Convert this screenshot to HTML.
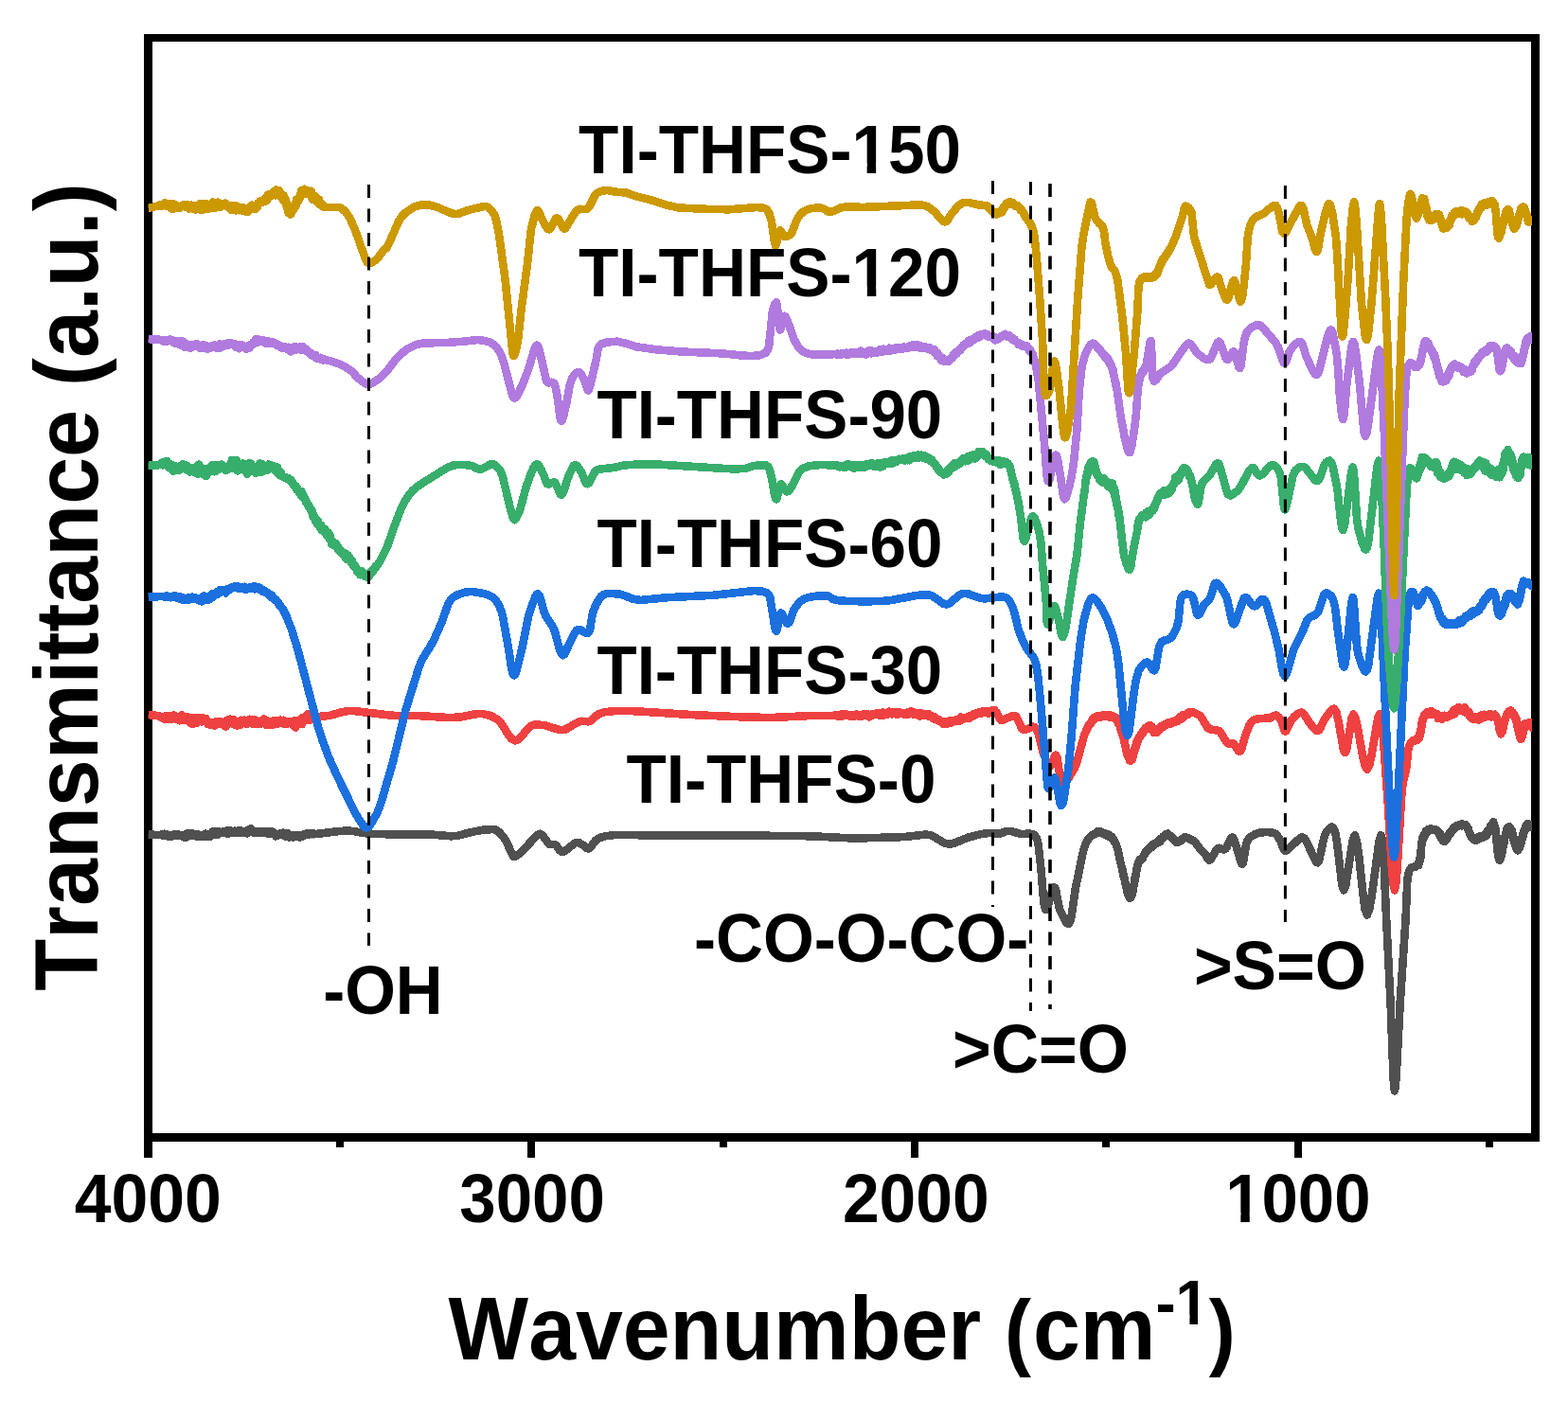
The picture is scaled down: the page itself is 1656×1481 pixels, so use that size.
<!DOCTYPE html>
<html><head><meta charset="utf-8"><title>FTIR spectra</title>
<style>html,body{margin:0;padding:0;background:#fff;}body{width:1656px;height:1481px;overflow:hidden;}svg{display:block;}</style>
</head><body>
<svg width="1656" height="1481" viewBox="0 0 1656 1481"><rect x="0" y="0" width="1656" height="1481" fill="#fff"/>
<g fill="#000" shape-rendering="crispEdges"><rect x="152" y="36" width="1474" height="8"/><rect x="152" y="1197" width="1474" height="9"/><rect x="152" y="36" width="9" height="1187"/><rect x="1617" y="36" width="9" height="1170"/><rect x="557" y="1206" width="8" height="17"/><rect x="962" y="1206" width="8" height="17"/><rect x="1367" y="1206" width="8" height="17"/><rect x="355" y="1206" width="8" height="6"/><rect x="760" y="1206" width="8" height="6"/><rect x="1164" y="1206" width="8" height="6"/><rect x="1569" y="1206" width="8" height="6"/></g>
<defs><clipPath id="cp"><rect x="156.5" y="0" width="1461.5" height="1481"/></clipPath></defs>
<g clip-path="url(#cp)" fill="none" stroke-width="8.6" stroke-linejoin="round" stroke-linecap="butt" shape-rendering="crispEdges">
<path stroke="#505050" d="M156.5 881.5L169.4 882.1L170.3 881.7L171.1 882.5L171.9 881.5L172.8 882.5L173.6 880.8L174.5 883.0L175.3 881.0L176.2 882.8L177.0 881.9L177.9 883.5L178.7 882.9L179.6 884.0L180.4 883.1L181.3 883.7L182.1 882.3L183.0 882.5L183.8 881.3L184.7 882.5L185.5 881.2L186.4 882.5L187.2 881.5L188.1 882.4L188.9 881.6L189.7 882.4L190.5 882.2L191.4 883.3L192.2 882.6L193.0 883.8L193.8 882.3L194.7 884.4L195.5 882.1L196.3 884.4L197.2 880.6L198.0 883.9L198.9 880.6L199.7 883.1L200.5 881.3L201.4 882.9L202.2 880.3L203.0 882.6L203.9 880.5L204.7 882.8L205.6 881.4L206.4 882.9L207.3 881.7L208.1 883.6L208.9 881.1L209.8 883.6L210.6 881.8L211.5 883.7L212.3 882.3L213.2 884.1L214.0 881.9L214.9 883.0L215.7 881.4L216.5 884.0L217.4 880.7L218.2 883.5L219.1 881.4L219.9 883.7L220.8 881.9L221.6 884.0L222.5 880.9L223.3 881.7L224.2 878.6L225.0 881.3L225.9 878.4L226.7 881.7L227.5 878.4L228.4 880.9L229.2 879.1L230.1 881.9L230.9 878.0L231.8 880.5L232.6 879.1L233.5 880.2L234.3 878.8L235.2 880.1L236.0 878.5L236.9 880.0L237.7 878.3L238.6 879.9L239.4 877.4L240.3 881.0L241.1 877.9L242.0 880.1L242.8 877.1L243.7 879.6L244.5 877.8L245.4 879.7L246.3 878.8L247.1 880.2L248.0 877.7L248.9 879.8L249.7 877.9L250.6 879.2L251.4 877.7L252.3 879.3L253.2 877.7L254.0 879.7L254.9 877.5L255.8 879.8L256.6 877.9L257.5 879.3L258.3 877.9L259.2 879.6L260.0 877.7L260.9 880.4L261.7 877.9L262.6 879.1L263.4 876.0L264.3 878.4L265.1 875.0L265.9 878.9L266.8 876.9L267.6 879.6L268.4 878.1L269.3 879.5L270.1 878.2L270.9 879.5L271.7 878.6L272.5 879.4L273.3 878.7L274.1 879.8L274.9 878.5L275.7 879.3L276.5 878.1L277.4 879.7L278.3 878.3L279.2 879.4L280.1 878.0L281.0 879.6L281.8 878.1L282.7 880.6L283.6 878.9L284.4 881.2L285.3 878.5L286.1 880.4L287.0 878.1L287.8 880.4L288.7 879.0L289.5 881.2L290.4 880.4L291.2 883.3L292.0 881.1L292.9 882.7L293.7 880.9L294.5 882.3L295.3 880.6L296.2 881.7L297.0 880.1L297.8 881.9L298.7 879.7L299.5 882.4L300.3 880.9L301.1 883.3L302.0 881.1L302.8 883.6L303.6 880.0L304.5 884.3L305.3 881.3L306.2 884.3L307.0 882.4L307.8 884.2L308.7 881.8L309.5 884.7L310.4 882.9L311.2 884.2L312.0 882.6L312.9 883.9L313.7 882.1L314.6 883.8L315.4 882.0L316.3 884.5L317.1 882.5L317.9 884.1L318.8 882.2L319.6 883.5L320.5 881.6L321.3 882.6L322.1 881.2L323.0 882.0L323.8 880.4L324.7 881.6L325.5 880.8L326.4 881.6L327.2 880.5L328.0 880.9L328.9 880.5L329.7 881.2L330.6 880.7L331.4 881.2L332.2 880.7L333.1 881.1L358.0 878.0L367.7 877.5L374.6 878.2L384.4 880.1L392.7 880.8L418.3 881.5L455.0 881.5L476.1 883.3L483.2 882.8L498.1 879.0L510.7 876.5L520.7 876.1L523.4 876.6L526.2 878.2L530.5 882.6L534.5 888.5L541.8 904.2L542.8 905.0L544.8 904.5L550.0 900.7L566.5 883.0L569.3 881.0L570.6 880.8L572.8 882.2L579.5 891.2L581.1 892.0L586.3 892.3L587.5 893.3L591.1 898.2L593.5 900.1L594.7 900.0L597.1 898.7L606.4 891.2L609.2 889.9L611.3 890.2L613.3 891.2L616.3 893.0L619.3 895.8L621.3 896.5L622.8 895.8L624.3 894.2L629.2 887.7L632.8 885.2L638.7 883.4L648.8 882.1L835.3 882.9L860.0 883.4L893.7 885.2L909.3 885.4L954.5 884.1L977.4 881.6L981.5 882.0L985.1 883.1L995.2 889.2L998.4 890.8L1001.8 891.5L1005.1 891.3L1008.5 890.4L1022.0 884.8L1035.8 881.1L1044.7 879.9L1055.8 880.7L1063.7 877.8L1067.3 877.8L1077.8 880.9L1088.3 880.7L1090.7 881.2L1092.7 882.3L1094.7 885.1L1096.0 889.2L1096.8 894.0L1099.6 919.3L1102.1 951.0L1103.2 958.2L1104.6 961.1L1105.9 959.4L1110.6 943.5L1112.1 939.0L1113.5 937.3L1114.6 938.6L1115.5 942.0L1118.2 957.0L1119.4 961.1L1125.4 973.6L1126.9 975.4L1128.3 976.0L1130.1 973.5L1131.7 967.4L1135.6 939.8L1144.1 898.7L1146.4 891.9L1149.1 886.8L1154.0 881.9L1154.7 882.0L1155.7 880.8L1156.8 880.8L1157.8 879.4L1158.9 879.8L1159.9 877.9L1161.0 879.5L1161.8 878.3L1162.6 879.4L1163.4 878.9L1164.3 880.4L1165.2 879.6L1166.1 880.7L1167.0 880.3L1167.9 882.0L1168.8 881.1L1169.6 883.3L1170.5 881.3L1171.4 884.3L1172.2 882.5L1173.0 884.3L1173.8 883.6L1174.5 885.5L1175.2 885.6L1176.4 887.3L1176.8 889.1L1177.3 888.9L1178.2 890.5L1180.8 898.1L1183.0 909.4L1184.6 916.2L1184.8 915.6L1185.0 918.6L1185.2 917.3L1185.4 920.0L1185.7 918.9L1186.6 925.6L1186.8 923.9L1187.7 929.6L1187.8 928.3L1188.3 933.4L1188.5 932.3L1188.7 934.7L1188.8 933.3L1189.0 936.6L1189.1 934.7L1190.1 940.8L1190.2 939.7L1190.4 942.3L1190.6 941.1L1190.8 943.2L1191.1 942.8L1191.4 945.1L1191.7 944.7L1193.0 948.8L1194.2 948.2L1194.7 946.5L1195.2 946.6L1195.4 944.9L1195.6 945.5L1198.4 930.7L1198.8 926.6L1199.0 928.0L1200.0 920.5L1200.1 921.6L1200.3 918.2L1200.5 919.6L1200.9 915.1L1201.1 916.8L1201.4 913.5L1201.6 914.6L1201.9 911.9L1202.1 912.8L1203.1 909.3L1203.6 909.7L1204.1 907.7L1204.6 908.8L1205.1 906.9L1205.7 907.4L1206.3 905.8L1206.9 906.5L1207.5 904.0L1208.2 903.8L1208.7 901.6L1209.1 902.1L1210.6 898.9L1211.1 899.0L1211.6 898.0L1212.1 898.1L1212.6 896.9L1213.4 897.0L1214.2 895.4L1214.9 895.5L1215.5 893.6L1216.2 895.0L1216.9 893.1L1217.6 893.7L1218.4 891.4L1219.1 892.4L1219.8 890.6L1220.5 891.7L1221.3 890.3L1222.0 891.0L1222.7 889.1L1223.5 890.2L1224.3 887.3L1225.1 889.2L1225.9 886.3L1226.5 887.5L1227.0 885.0L1227.5 886.0L1228.4 883.6L1229.2 884.1L1230.0 882.3L1230.9 882.1L1231.7 881.1L1232.6 881.9L1233.5 880.6L1234.4 881.9L1235.4 882.3L1236.3 883.9L1237.0 883.4L1237.6 884.9L1238.3 884.8L1238.9 886.6L1239.6 885.9L1240.2 887.7L1241.2 887.5L1242.2 889.8L1243.1 888.5L1244.0 889.8L1245.5 888.6L1246.9 888.6L1247.6 887.3L1248.3 887.4L1249.0 885.9L1249.7 885.9L1251.1 884.2L1252.5 885.1L1253.9 884.8L1255.4 886.0L1256.2 885.7L1256.9 886.5L1259.1 887.2L1262.1 889.8L1266.7 895.9L1272.3 901.6L1275.5 907.3L1277.3 908.7L1278.7 907.8L1284.8 897.3L1286.5 895.9L1287.7 895.8L1292.5 897.5L1293.6 897.3L1295.1 895.9L1299.0 887.4L1300.2 885.3L1301.4 884.5L1302.6 885.5L1303.8 887.9L1310.0 908.8L1311.4 912.4L1312.1 912.9L1313.0 911.3L1316.2 891.2L1317.7 887.4L1320.5 884.2L1325.7 881.0L1330.5 879.6L1337.2 879.0L1343.7 879.5L1346.1 880.3L1348.5 882.1L1350.2 884.6L1352.8 889.3L1355.3 896.3L1356.3 897.9L1357.4 898.7L1358.6 898.5L1360.0 897.6L1372.7 885.5L1374.4 884.6L1375.9 884.5L1377.5 885.5L1379.0 887.5L1389.3 909.1L1390.5 910.8L1391.6 911.3L1393.1 909.3L1398.3 884.7L1400.0 880.3L1403.8 875.3L1406.4 873.6L1407.6 873.6L1410.2 879.2L1412.3 891.8L1417.4 935.5L1419.2 940.3L1421.1 936.0L1428.9 886.6L1430.8 882.3L1433.0 888.6L1435.2 904.2L1439.5 944.7L1441.6 960.3L1443.9 966.5L1446.3 960.3L1449.0 944.6L1456.5 888.5L1458.4 882.3L1459.9 887.0L1461.1 899.1L1464.2 972.3L1468.6 1059.4L1471.4 1135.0L1472.1 1147.5L1472.9 1152.3L1473.8 1147.5L1474.7 1135.0L1478.7 1059.4L1484.5 972.3L1486.3 930.0L1487.6 922.2L1489.3 917.9L1490.9 916.0L1492.3 916.2L1493.8 915.3L1495.3 915.6L1496.6 914.1L1497.8 914.2L1498.2 911.0L1498.5 912.2L1498.9 909.0L1499.3 910.7L1499.8 905.1L1499.9 907.0L1500.1 903.8L1500.2 906.7L1501.1 892.5L1501.2 895.0L1501.3 890.9L1501.4 892.9L1501.7 888.7L1501.9 889.8L1502.1 886.7L1502.3 888.1L1502.5 884.2L1502.7 886.2L1503.1 883.1L1503.6 884.1L1504.0 881.5L1504.5 883.5L1505.0 880.1L1505.5 880.9L1506.1 877.6L1506.6 879.7L1507.2 876.8L1507.8 878.8L1508.5 876.2L1509.2 877.9L1510.7 875.5L1511.5 877.1L1512.3 875.7L1513.2 876.5L1514.0 876.0L1514.9 876.8L1515.8 876.1L1516.6 877.7L1517.4 876.9L1518.2 878.5L1518.9 878.1L1519.5 880.3L1520.2 879.7L1520.7 883.0L1521.3 881.2L1521.8 884.4L1522.2 884.1L1522.7 886.7L1523.2 885.4L1523.7 888.3L1524.2 886.7L1525.4 889.0L1526.3 886.3L1527.3 887.4L1527.8 885.2L1528.3 886.4L1528.8 883.9L1529.3 884.5L1529.7 882.2L1530.1 882.8L1530.6 880.3L1531.0 881.2L1531.4 879.8L1531.9 880.4L1532.3 878.0L1532.8 878.7L1533.3 876.9L1533.7 877.4L1534.3 875.8L1534.9 876.4L1535.4 874.0L1536.0 874.5L1536.8 873.4L1537.5 873.7L1538.3 872.3L1539.1 873.2L1539.9 871.7L1540.8 872.3L1541.6 871.1L1542.5 872.0L1543.3 870.6L1544.2 872.4L1545.0 870.7L1545.8 872.1L1546.6 871.3L1547.4 872.6L1548.1 871.5L1548.9 873.8L1549.7 873.5L1550.1 875.4L1550.5 874.8L1552.1 880.4L1552.4 880.2L1552.7 882.0L1552.9 881.2L1554.1 884.8L1554.5 884.7L1555.4 885.9L1556.2 885.5L1557.1 887.3L1558.1 885.9L1559.2 887.9L1560.3 884.5L1561.1 886.7L1561.8 885.1L1562.6 886.2L1563.4 883.1L1564.2 885.3L1564.9 883.4L1565.7 885.0L1566.4 882.5L1567.2 883.7L1568.1 881.4L1569.1 883.3L1569.9 879.2L1570.7 881.5L1571.2 877.5L1571.7 879.3L1572.2 876.5L1572.7 877.3L1573.1 875.2L1573.6 875.9L1574.2 871.9L1574.9 873.5L1575.5 871.4L1576.1 872.7L1577.2 868.3L1577.6 872.5L1578.0 871.5L1578.4 874.0L1578.8 872.8L1579.2 877.1L1579.3 875.1L1579.8 881.5L1579.9 879.6L1580.2 884.4L1580.3 882.7L1580.4 885.6L1580.5 884.0L1580.7 890.3L1580.8 888.4L1580.9 891.7L1581.0 889.3L1581.1 894.1L1581.1 891.8L1581.4 896.6L1581.5 893.6L1581.7 900.6L1581.8 897.8L1582.4 905.6L1582.5 903.9L1582.9 906.9L1583.3 906.0L1583.7 908.8L1584.2 905.6L1584.6 907.2L1585.1 903.7L1585.3 905.5L1585.9 900.0L1586.1 902.0L1586.2 899.0L1586.4 901.2L1586.6 898.0L1586.8 898.6L1586.9 896.5L1587.1 898.2L1587.3 894.9L1587.9 891.6L1588.1 892.3L1588.2 889.8L1588.4 891.0L1589.2 884.3L1589.4 885.2L1589.9 881.3L1590.1 882.4L1590.8 878.6L1591.0 879.3L1591.6 875.2L1592.2 877.3L1592.8 874.1L1593.4 874.9L1594.2 873.3L1595.0 875.9L1595.3 874.9L1595.6 877.6L1595.9 876.5L1596.3 878.9L1596.6 877.1L1596.8 881.7L1597.1 879.6L1597.3 882.1L1597.5 880.4L1597.8 884.6L1598.0 882.7L1598.3 886.3L1598.5 884.6L1598.7 887.9L1599.0 886.1L1599.7 891.2L1599.9 890.8L1600.2 892.8L1600.5 891.9L1601.3 896.3L1601.6 896.0L1602.1 897.6L1602.7 896.6L1603.2 898.4L1603.7 896.8L1604.3 896.8L1605.1 894.9L1605.9 891.0L1606.1 892.5L1606.8 887.3L1607.0 888.4L1607.6 884.5L1607.8 885.9L1608.4 882.0L1608.6 882.9L1608.7 879.9L1608.9 881.4L1609.1 879.0L1609.3 880.3L1609.5 877.1L1609.8 878.3L1610.1 876.4L1610.4 877.6L1611.2 872.9L1611.7 874.5L1612.3 870.8L1612.9 871.7L1613.8 870.0L1614.9 871.7L1616.1 871.2L1617.0 873.7L1617.7 872.1L1618.0 874.2"/>
<path stroke="#EF4141" d="M156.5 755.0L167.3 756.1L168.2 756.7L169.1 756.6L170.0 757.9L170.9 756.8L171.8 758.2L172.7 757.2L173.6 759.6L174.5 756.7L175.4 759.5L176.3 756.5L177.2 759.3L178.1 755.8L179.0 759.2L179.9 755.8L180.8 760.1L181.7 756.6L182.6 759.2L183.6 755.5L184.5 758.1L185.4 756.2L186.2 759.9L187.1 757.4L187.9 760.0L188.7 758.2L189.5 761.3L190.4 756.5L191.2 759.9L192.0 755.4L192.8 761.2L193.7 757.0L194.5 761.0L195.3 757.2L196.1 759.5L197.0 757.4L197.8 759.3L198.6 757.7L199.4 760.8L200.3 757.8L201.1 763.9L202.0 760.0L202.8 764.5L203.6 758.4L204.5 764.4L205.3 758.0L206.2 764.0L207.0 759.9L207.9 763.9L208.7 758.3L209.6 761.5L210.5 758.8L211.4 760.7L212.2 757.9L213.1 762.3L214.0 758.2L214.9 761.2L215.8 759.4L216.6 762.0L217.4 759.0L218.2 763.1L219.0 762.2L219.8 765.1L220.7 762.5L221.5 765.6L222.3 763.4L223.1 764.8L224.0 763.2L224.8 766.0L225.7 763.0L226.5 766.4L227.4 762.5L228.2 765.2L229.1 761.8L229.9 764.4L230.8 762.3L231.7 764.7L232.6 762.4L233.4 765.1L234.3 762.7L235.2 765.1L236.0 762.8L236.9 766.7L237.8 762.9L238.7 767.4L239.5 760.7L240.4 764.6L241.3 760.4L242.1 763.8L243.0 759.7L243.9 763.7L244.7 761.8L245.6 764.6L246.4 760.0L247.3 765.4L248.1 762.4L249.0 764.9L249.8 762.5L250.6 766.4L251.4 764.2L252.2 765.5L253.1 763.4L253.9 765.7L254.7 760.7L255.5 763.2L256.3 760.9L257.2 763.4L258.1 760.6L259.0 763.1L259.9 760.8L260.8 765.1L261.7 761.2L262.6 763.0L263.5 759.7L264.3 764.2L265.2 760.1L266.1 762.4L267.0 760.2L267.8 765.0L268.7 760.5L269.6 764.9L270.4 760.6L271.3 765.1L272.2 763.0L273.0 765.2L273.8 762.6L274.7 764.8L275.5 762.8L276.3 763.6L277.2 760.6L278.0 762.6L278.8 759.5L279.6 764.2L280.4 760.4L281.2 766.1L282.0 761.5L283.0 766.0L283.9 762.8L284.8 765.7L285.8 762.5L286.7 764.3L287.6 762.7L288.5 765.6L289.4 761.2L290.3 763.9L291.2 762.3L292.1 764.3L292.9 761.0L293.8 764.5L294.6 761.7L295.5 762.5L296.3 760.7L297.1 762.3L298.0 760.8L298.8 763.9L299.6 760.8L300.4 765.2L301.2 761.8L302.1 765.2L302.9 762.2L303.7 763.8L304.5 762.3L305.3 763.3L306.2 762.3L307.0 764.3L307.8 762.7L308.7 765.0L309.5 763.7L310.4 767.0L311.2 761.3L312.1 768.5L312.9 762.5L313.8 765.9L314.6 761.2L315.4 764.8L316.3 761.7L317.1 765.0L317.9 760.0L318.8 765.2L319.6 758.0L320.5 761.4L321.3 757.7L322.1 759.8L323.0 756.6L323.8 760.4L324.7 754.4L325.5 760.8L326.4 757.1L327.2 760.6L328.0 757.2L328.9 759.7L329.7 757.5L330.5 758.6L331.4 757.3L332.2 758.5L333.1 757.4L333.9 757.6L334.8 757.1L347.4 756.0L360.9 752.3L367.7 751.0L374.3 751.1L413.4 755.7L422.1 756.1L440.5 756.0L474.5 758.1L486.1 757.5L500.8 754.5L505.2 754.0L509.4 754.0L517.9 755.9L525.6 760.0L528.8 763.2L537.7 777.3L540.7 780.8L543.8 782.3L546.8 781.4L549.8 778.8L559.0 768.1L562.0 766.1L566.2 765.3L575.6 766.3L590.2 770.8L594.5 771.2L597.4 770.4L609.9 763.1L612.7 762.0L614.5 761.8L621.2 762.3L622.8 762.0L624.5 761.1L631.0 755.1L633.0 754.0L638.3 752.3L647.9 751.2L661.8 750.9L673.8 751.4L729.8 755.0L788.8 757.6L815.5 758.0L860.0 755.8L880.0 755.8L882.5 755.4L883.3 756.1L884.2 755.3L885.0 756.2L885.8 755.9L886.6 756.9L887.5 755.9L888.3 756.5L889.2 754.2L890.0 756.4L890.9 754.6L891.7 755.5L892.6 753.9L893.4 755.9L894.3 755.1L895.2 756.1L896.1 754.9L897.0 756.5L897.9 755.3L898.7 756.9L899.6 755.7L900.5 756.8L901.4 755.0L902.3 756.4L903.1 755.2L904.0 756.1L904.9 754.5L905.8 756.3L906.6 755.1L907.5 756.5L908.4 755.5L909.3 756.4L910.1 754.8L911.0 756.5L911.8 754.4L912.7 755.8L913.5 754.1L914.4 755.3L915.2 754.5L916.1 756.3L916.9 754.5L917.8 757.3L918.6 755.2L919.5 756.1L920.4 754.3L921.2 755.5L922.1 754.5L923.0 755.2L923.8 754.1L924.7 754.8L925.6 753.3L926.4 754.3L927.3 753.2L928.2 755.5L929.0 753.1L929.9 754.8L930.7 753.0L931.6 755.9L932.5 752.5L933.3 755.7L934.2 752.9L935.0 754.9L935.9 753.6L936.7 754.7L937.6 753.2L938.4 754.2L939.2 751.6L940.0 753.9L940.8 752.6L941.6 754.3L942.4 751.9L943.3 754.0L944.1 752.8L944.9 754.1L945.7 752.6L946.5 754.5L947.3 752.5L948.1 754.5L948.9 751.9L949.7 753.3L950.5 752.5L951.3 754.0L952.1 753.1L952.9 754.1L953.7 753.7L954.5 754.6L955.4 753.6L956.2 754.4L957.1 753.1L957.9 754.9L958.8 752.3L959.6 754.5L960.4 751.9L961.2 753.4L962.0 751.2L962.8 753.9L963.6 752.1L964.4 754.6L965.3 752.5L966.3 754.9L967.2 753.9L968.1 755.2L969.0 753.6L969.9 755.2L970.7 752.9L971.6 756.6L972.5 753.1L973.3 756.2L974.2 754.1L975.0 755.7L975.8 754.0L976.7 756.0L977.5 754.2L978.3 755.7L979.1 754.1L979.9 755.7L980.7 754.1L981.5 756.8L982.3 755.3L983.1 757.3L983.9 756.3L984.7 758.2L985.4 757.5L986.1 759.3L986.9 757.4L987.6 760.1L988.3 759.1L989.0 760.4L989.7 759.8L990.4 760.9L991.3 759.9L992.3 762.0L993.2 761.3L994.1 762.9L995.1 762.0L996.1 764.6L997.1 761.8L998.1 765.0L999.1 763.1L1000.0 764.6L1000.9 762.7L1001.8 763.5L1002.7 761.3L1003.7 763.7L1004.6 761.7L1005.6 763.2L1006.5 761.2L1007.3 762.2L1008.1 760.9L1008.9 762.2L1009.6 760.6L1010.4 761.8L1011.2 759.8L1012.0 761.0L1012.8 759.4L1013.6 761.5L1014.4 757.6L1015.1 759.8L1015.9 757.9L1016.7 759.8L1017.5 758.1L1018.2 759.3L1019.2 758.2L1020.1 759.2L1021.1 758.2L1022.0 758.9L1022.9 757.0L1023.8 758.7L1024.7 755.8L1025.5 757.6L1026.4 755.6L1027.3 756.3L1028.2 754.1L1029.1 755.5L1030.0 753.9L1030.9 754.5L1031.8 753.0L1032.7 754.3L1033.6 752.2L1034.4 753.7L1035.3 752.3L1036.1 753.9L1036.9 751.8L1037.7 752.8L1038.6 751.0L1039.4 752.4L1040.3 751.2L1041.3 752.4L1042.3 751.5L1043.2 753.5L1044.1 751.0L1045.0 753.3L1045.9 750.9L1046.7 751.8L1047.5 750.6L1049.1 752.0L1050.5 750.2L1051.8 752.4L1052.9 752.7L1055.6 759.1L1057.2 760.6L1059.2 760.5L1069.7 756.0L1071.9 756.1L1073.7 757.6L1079.1 769.3L1080.8 770.9L1082.6 771.0L1090.9 767.7L1092.7 768.0L1094.8 770.4L1096.5 774.4L1101.6 794.7L1105.3 804.3L1107.8 808.9L1109.0 809.6L1110.0 808.7L1114.1 798.5L1115.0 797.7L1116.3 799.9L1119.4 819.4L1120.7 824.9L1122.4 827.4L1124.1 827.0L1128.1 822.7L1134.3 812.5L1137.0 806.2L1144.1 780.2L1146.3 773.5L1146.7 773.5L1147.0 772.0L1147.4 772.1L1147.7 770.3L1148.1 770.6L1148.4 768.8L1148.8 769.1L1149.1 767.3L1149.5 767.7L1150.0 765.3L1150.4 766.5L1150.9 764.7L1151.5 764.8L1152.1 762.8L1152.7 763.5L1153.3 760.5L1154.0 761.7L1154.6 758.7L1155.2 760.2L1155.9 757.9L1156.6 758.1L1157.3 757.0L1158.0 757.6L1158.7 756.2L1159.5 758.0L1160.2 756.7L1161.0 757.4L1161.9 756.3L1162.9 757.5L1163.8 755.6L1164.8 757.1L1165.9 755.0L1167.0 757.2L1167.8 755.5L1168.6 756.8L1169.5 755.4L1170.3 756.9L1171.1 755.7L1171.9 757.7L1172.7 755.5L1173.5 758.1L1174.5 756.1L1175.5 757.8L1176.5 757.0L1177.2 759.2L1178.0 757.6L1178.8 760.6L1179.6 758.9L1180.4 762.8L1180.8 761.3L1181.2 764.4L1181.6 762.5L1181.9 765.0L1182.1 763.6L1182.9 768.7L1183.2 766.9L1183.4 769.7L1183.7 769.4L1183.9 771.4L1184.2 770.3L1184.5 773.4L1184.8 772.6L1186.0 778.4L1186.2 776.5L1187.1 783.2L1187.3 782.2L1187.5 784.3L1187.7 783.1L1187.9 786.0L1188.0 785.0L1188.6 789.3L1188.8 788.4L1189.0 791.6L1189.1 790.3L1189.4 793.2L1189.6 792.1L1190.6 797.7L1190.9 797.2L1191.2 799.2L1191.5 798.2L1191.8 800.8L1192.2 799.6L1192.9 803.4L1193.7 802.4L1194.4 803.6L1195.1 801.1L1195.4 802.6L1196.4 798.3L1196.6 799.1L1196.8 797.0L1197.0 798.7L1197.3 795.2L1197.5 796.1L1198.7 790.4L1198.9 791.6L1199.1 788.7L1199.4 789.9L1200.2 784.4L1200.5 786.1L1200.7 783.5L1201.1 784.2L1201.5 781.9L1201.9 783.1L1202.2 780.0L1202.6 780.6L1203.2 778.4L1203.8 778.7L1204.4 776.2L1204.9 777.0L1205.4 774.7L1205.9 775.8L1206.4 773.5L1207.0 774.8L1207.5 772.3L1208.0 772.9L1208.6 770.9L1209.3 771.7L1210.0 768.9L1210.7 770.5L1211.4 768.1L1212.1 769.6L1212.7 767.2L1213.6 769.1L1214.5 766.1L1215.5 768.4L1216.4 767.4L1217.2 771.2L1218.1 771.6L1218.9 774.2L1219.9 772.6L1221.2 774.0L1221.8 771.6L1222.5 772.5L1223.2 769.5L1223.9 771.8L1224.6 768.6L1225.3 769.6L1226.1 767.4L1226.8 768.8L1227.6 766.7L1228.4 767.9L1229.3 765.7L1230.1 766.8L1231.0 764.8L1231.9 765.7L1232.9 763.7L1233.8 765.1L1234.7 763.8L1235.7 765.1L1236.7 762.8L1237.7 764.0L1238.7 762.0L1239.7 763.2L1240.6 761.6L1241.5 762.6L1242.4 761.1L1243.1 762.1L1243.9 759.4L1244.6 760.7L1245.3 758.4L1246.0 760.2L1246.8 756.8L1247.5 759.5L1248.3 756.4L1249.0 759.0L1249.7 755.0L1250.5 757.1L1251.2 755.0L1251.9 756.0L1252.6 754.3L1253.3 755.2L1254.1 753.0L1254.9 754.7L1255.8 752.1L1256.7 753.2L1257.6 752.1L1258.5 752.6L1259.4 752.2L1261.1 752.6L1266.7 755.5L1268.5 757.3L1274.7 767.8L1276.6 769.6L1278.4 770.4L1286.2 771.7L1287.9 772.5L1291.1 776.6L1295.1 783.9L1297.4 785.5L1302.1 785.2L1303.4 786.3L1308.1 793.4L1309.2 793.8L1310.5 792.6L1311.7 789.7L1315.1 777.4L1319.2 766.7L1321.7 762.6L1323.4 761.1L1326.0 759.9L1329.1 759.3L1341.8 758.3L1345.8 755.9L1347.5 755.5L1350.5 757.5L1353.2 761.1L1356.0 770.1L1356.6 771.8L1357.4 772.5L1358.4 771.8L1359.4 770.0L1363.1 761.8L1364.5 759.7L1367.6 756.4L1371.1 753.5L1374.5 752.6L1376.3 753.5L1378.0 755.4L1382.8 763.3L1388.1 769.8L1390.4 771.8L1391.6 772.0L1393.0 771.1L1394.4 769.2L1398.5 760.7L1404.5 751.9L1407.6 748.9L1409.0 748.7L1411.4 752.6L1413.5 761.4L1418.9 791.9L1420.6 795.2L1422.1 792.2L1427.8 757.5L1429.4 754.5L1431.6 758.8L1434.0 769.5L1439.0 797.5L1441.5 808.3L1443.9 812.6L1446.2 808.3L1448.6 797.5L1455.2 758.7L1457.0 754.5L1458.6 758.1L1460.0 767.4L1465.7 847.1L1470.0 918.4L1471.5 934.2L1472.9 940.3L1474.3 933.3L1475.8 915.3L1480.1 842.2L1481.6 827.1L1484.9 813.4L1485.6 808.9L1487.2 792.5L1488.2 788.0L1490.3 783.9L1492.2 782.4L1493.7 782.9L1495.2 781.3L1496.6 782.1L1497.2 779.3L1497.8 780.2L1498.2 777.9L1498.5 780.0L1498.9 775.2L1499.3 778.2L1499.9 772.7L1500.2 774.7L1501.1 766.2L1501.3 768.2L1501.4 764.0L1501.6 766.8L1501.8 762.3L1501.9 766.1L1502.5 759.4L1502.7 761.2L1503.5 756.9L1503.9 758.4L1504.3 755.1L1505.0 756.1L1505.7 753.5L1506.5 755.6L1507.3 752.2L1508.2 754.9L1509.2 752.2L1510.3 755.0L1511.3 751.0L1512.2 753.8L1513.1 752.8L1513.9 754.6L1514.9 752.9L1515.8 755.3L1516.8 753.8L1517.5 756.4L1518.3 754.4L1519.0 759.2L1519.7 755.3L1520.7 758.9L1521.7 756.8L1522.7 759.7L1523.6 757.1L1524.5 758.1L1525.4 755.8L1526.2 757.7L1527.1 756.2L1527.9 757.9L1528.8 756.2L1529.6 756.7L1530.5 755.4L1531.3 756.2L1532.1 754.1L1532.9 755.0L1533.7 752.9L1534.5 753.9L1535.4 750.1L1536.1 754.3L1536.9 749.9L1537.7 750.9L1538.5 748.5L1539.2 750.1L1540.0 747.4L1540.9 750.8L1541.7 747.7L1542.6 750.8L1543.5 748.0L1544.3 751.0L1545.1 748.4L1546.0 751.9L1546.8 747.2L1547.5 752.6L1548.3 749.6L1549.7 753.5L1550.3 751.1L1550.9 753.7L1551.4 752.2L1551.9 756.3L1552.4 754.3L1552.8 757.0L1553.3 755.5L1553.7 758.2L1554.3 756.4L1554.8 759.3L1555.5 757.6L1556.2 760.2L1557.0 757.8L1557.8 759.5L1558.7 757.4L1559.7 759.6L1560.7 757.3L1561.7 760.4L1562.5 756.8L1563.4 759.6L1564.2 755.5L1565.0 758.2L1565.9 756.0L1566.7 757.6L1567.5 754.7L1568.4 757.4L1569.1 755.0L1569.9 757.2L1570.7 755.2L1571.4 756.7L1572.3 754.7L1573.1 756.3L1574.0 754.3L1575.3 757.4L1576.5 755.0L1577.6 756.7L1578.7 754.7L1579.6 758.2L1580.5 757.1L1580.9 759.6L1581.3 758.9L1581.6 761.0L1581.9 760.4L1583.8 771.5L1585.3 775.4L1585.9 772.4L1586.5 773.5L1587.2 768.8L1587.4 769.8L1588.9 762.2L1591.5 754.1L1591.8 754.9L1592.3 752.8L1592.9 753.3L1593.4 751.4L1594.4 752.2L1595.5 750.5L1596.7 753.2L1597.8 753.0L1598.4 754.9L1598.9 754.7L1599.4 757.7L1599.9 755.7L1601.0 761.5L1601.3 759.1L1602.5 767.5L1602.7 764.4L1603.2 770.3L1603.4 768.8L1603.5 771.2L1603.7 769.4L1603.9 773.8L1604.0 771.6L1604.2 774.8L1604.3 773.7L1604.5 775.8L1604.7 774.5L1605.4 779.5L1605.9 778.1L1606.4 780.8L1607.2 778.2L1607.4 778.8L1607.6 776.5L1607.9 777.2L1608.0 774.1L1608.2 775.6L1608.4 772.8L1608.7 770.9L1608.9 772.1L1609.1 769.2L1609.3 770.8L1610.2 764.8L1610.7 766.7L1611.3 763.9L1612.4 765.5L1613.8 763.6L1614.6 766.8L1615.3 762.9L1616.0 766.2L1616.7 765.4L1617.6 768.5L1618.0 767.3"/>
<path stroke="#1B70DE" d="M156.5 630.4L172.8 630.1L173.7 630.5L174.5 629.8L175.4 630.4L176.3 629.7L177.2 630.4L178.1 630.1L179.0 630.8L179.9 630.1L180.8 631.3L181.8 630.1L182.7 630.8L183.6 629.4L184.5 630.7L185.4 629.6L186.4 631.7L187.3 629.8L188.3 631.9L189.2 629.9L190.2 632.7L191.0 631.0L191.8 633.2L192.6 631.4L193.4 634.1L194.2 631.7L195.0 633.1L195.8 632.0L196.6 633.8L197.4 631.8L198.2 633.9L199.0 631.5L199.8 633.4L200.8 631.3L201.7 632.0L202.7 630.6L203.6 632.2L204.6 631.1L205.5 633.0L206.4 631.5L207.4 633.3L208.3 632.0L209.2 634.2L210.1 632.2L211.0 634.8L211.9 632.9L212.8 635.3L213.7 631.4L214.5 633.8L215.3 629.4L216.1 633.6L216.9 630.7L217.7 633.4L218.4 630.4L219.2 633.9L220.0 630.5L220.8 633.7L221.6 629.3L222.3 631.6L223.1 629.1L223.8 631.4L224.6 627.1L225.4 630.0L226.1 627.6L226.8 629.0L227.6 627.1L228.3 627.7L229.0 625.4L229.9 627.6L230.8 624.3L231.7 626.4L232.6 623.1L233.4 624.6L234.3 623.0L235.1 624.9L236.0 622.8L236.8 625.0L237.7 622.9L238.5 626.4L239.3 622.6L240.0 625.1L240.8 622.3L241.9 623.5L243.1 621.1L244.2 621.8L245.3 620.0L246.5 621.0L247.7 619.5L248.5 620.8L249.4 619.9L250.2 621.0L251.1 619.1L251.9 621.9L252.8 620.0L253.7 621.4L254.6 619.9L255.6 622.1L256.5 620.0L257.5 621.7L258.5 619.8L259.4 623.0L260.4 620.9L261.4 622.0L262.4 620.9L263.4 621.9L264.3 620.2L265.3 622.1L266.3 620.0L267.2 621.8L268.1 618.9L269.1 622.5L269.9 619.9L270.8 622.1L271.6 620.2L272.5 622.2L273.4 620.2L274.3 623.0L275.2 621.5L276.0 623.5L276.9 622.8L277.7 624.9L278.5 624.1L279.3 625.6L280.1 624.3L280.9 626.3L281.6 626.0L282.4 627.1L283.1 626.2L283.9 628.4L284.6 627.4L285.3 630.0L286.0 628.2L286.7 630.7L287.3 629.0L288.0 632.0L288.6 630.9L289.5 633.1L290.4 632.5L291.3 634.4L292.1 634.2L292.9 636.0L293.7 636.0L294.5 638.4L295.3 638.6L295.8 640.0L296.3 640.0L297.8 642.8L298.4 642.8L302.4 650.8L307.8 664.3L314.4 685.9L335.8 767.2L340.5 781.9L347.4 800.5L357.5 822.8L376.0 860.3L383.8 872.6L385.3 874.0L386.9 874.5L388.7 873.8L392.6 869.2L398.0 859.3L401.8 850.2L415.0 804.9L428.4 750.0L442.3 705.3L444.6 699.3L448.3 692.6L454.7 682.5L458.5 675.4L466.8 656.7L472.8 639.3L474.7 635.5L477.0 632.4L481.9 628.9L490.4 625.8L495.6 625.0L500.4 625.2L509.5 626.7L515.8 628.5L521.1 631.6L524.0 634.5L526.4 638.3L529.4 645.2L530.9 650.9L536.9 683.9L540.3 706.6L541.5 711.5L542.8 713.4L543.9 712.4L545.1 709.6L547.5 700.8L551.5 684.1L558.1 651.2L560.0 644.6L565.4 630.1L566.8 628.0L568.1 627.3L569.5 628.6L570.8 632.0L574.7 646.7L576.2 650.6L584.3 662.8L586.1 667.6L591.1 686.1L592.8 690.4L594.5 692.2L595.8 691.5L597.1 689.4L602.6 677.0L606.4 669.7L609.1 665.8L610.7 664.8L612.3 664.9L619.4 669.0L620.8 668.9L622.4 666.9L623.4 663.3L625.7 648.7L626.9 644.6L629.7 638.3L633.0 632.5L634.9 630.1L637.0 628.4L641.2 627.0L653.1 627.3L658.4 628.7L669.3 633.0L677.0 633.9L704.8 631.2L753.4 628.8L795.7 624.1L804.3 624.4L810.2 626.4L812.1 628.3L813.2 630.8L818.3 662.2L819.1 665.6L819.9 666.9L820.6 665.5L823.6 649.0L824.7 647.4L825.8 648.1L830.8 658.0L832.0 658.8L833.2 657.8L834.4 655.5L837.9 645.3L839.3 642.6L845.1 635.4L849.0 632.8L852.7 631.4L862.4 629.6L871.7 629.2L875.0 629.6L880.0 633.1L885.5 634.2L893.4 634.9L913.2 635.4L932.7 634.9L941.3 634.0L967.4 629.1L975.2 628.3L981.8 628.7L985.4 629.9L996.6 637.9L999.4 638.4L1002.3 637.6L1013.8 628.2L1016.9 627.0L1020.2 626.9L1023.6 627.7L1034.3 631.5L1038.0 632.2L1042.2 632.2L1055.6 630.6L1059.5 630.6L1062.6 631.4L1065.7 634.0L1069.6 641.9L1072.1 650.0L1075.4 664.1L1079.9 676.5L1083.6 684.0L1091.4 694.1L1092.7 696.7L1094.3 702.0L1096.4 715.1L1099.7 750.0L1106.2 829.8L1106.7 832.3L1107.5 833.3L1108.3 832.5L1111.4 824.4L1112.5 822.2L1113.5 821.4L1114.9 823.7L1119.7 848.9L1120.9 851.1L1122.2 849.3L1123.5 844.6L1128.3 812.5L1131.4 780.5L1135.6 724.7L1141.3 675.5L1144.4 656.7L1146.2 649.1L1149.5 637.4L1152.1 632.2L1153.6 631.3L1155.6 632.0L1157.8 634.1L1162.6 641.1L1169.4 654.0L1175.3 671.1L1178.8 684.8L1181.2 699.7L1186.9 758.2L1188.7 771.7L1190.7 776.9L1192.5 772.7L1197.6 731.4L1199.9 717.6L1202.6 708.5L1207.0 702.1L1210.1 699.9L1211.5 699.6L1212.8 700.3L1214.1 702.0L1217.8 707.9L1218.9 708.4L1220.4 706.2L1223.3 688.1L1224.6 682.1L1226.5 678.2L1227.9 677.1L1234.5 675.3L1235.9 674.4L1238.9 671.0L1242.5 663.9L1244.6 656.2L1246.3 637.2L1247.3 632.1L1249.1 629.0L1250.5 628.2L1253.8 627.6L1257.2 628.2L1258.6 629.0L1260.2 631.5L1264.1 648.4L1265.2 649.8L1266.2 649.2L1267.3 647.6L1271.8 638.5L1277.5 632.8L1278.7 630.2L1282.8 616.9L1284.1 615.8L1285.6 616.2L1289.3 620.1L1294.5 629.0L1296.3 633.9L1300.4 653.1L1301.6 657.5L1303.0 659.3L1304.1 658.6L1305.2 656.5L1312.2 636.0L1314.1 631.7L1315.3 630.9L1316.7 631.4L1321.5 637.8L1323.1 639.6L1324.8 640.4L1326.4 639.8L1332.8 633.1L1334.2 632.8L1335.8 634.2L1337.2 637.0L1345.7 666.4L1350.6 686.3L1354.2 707.6L1355.5 712.3L1356.9 714.1L1358.3 712.6L1359.8 708.7L1366.4 685.7L1375.8 666.8L1380.3 655.4L1382.9 652.4L1387.9 650.1L1391.0 647.9L1392.8 644.8L1398.4 628.2L1400.0 626.6L1401.1 626.5L1403.5 627.6L1405.9 629.8L1406.9 631.2L1408.7 635.7L1410.1 642.0L1412.8 665.4L1417.6 698.9L1418.5 703.1L1419.5 704.7L1421.0 699.2L1427.3 636.6L1428.7 631.2L1429.7 634.7L1432.9 681.6L1434.4 690.9L1438.4 703.2L1441.3 708.6L1442.5 709.3L1443.9 707.4L1445.2 702.5L1454.2 635.3L1455.2 629.0L1456.2 626.6L1457.2 630.0L1458.8 651.6L1464.6 782.3L1468.8 865.9L1471.2 900.1L1472.3 905.5L1473.3 900.2L1474.3 886.3L1483.6 690.4L1487.3 640.1L1489.2 626.7L1490.2 625.1L1491.7 624.9L1492.0 627.2L1492.4 625.4L1492.7 629.1L1493.0 627.7L1493.3 629.6L1493.6 628.9L1493.9 632.0L1494.2 630.2L1494.5 633.4L1494.8 631.4L1495.1 634.7L1495.5 634.2L1495.9 636.7L1496.3 635.0L1497.0 639.5L1497.6 636.7L1498.3 639.6L1499.0 636.7L1499.4 637.4L1499.9 635.0L1500.4 636.5L1500.8 632.5L1501.1 635.0L1501.5 630.4L1501.9 633.3L1502.2 628.9L1502.6 630.8L1503.0 627.8L1503.4 629.1L1503.9 626.7L1504.4 627.5L1504.9 624.9L1505.7 625.0L1506.5 623.6L1507.9 624.6L1508.6 624.3L1509.4 626.1L1510.1 626.0L1510.9 628.0L1511.6 628.1L1512.4 630.1L1513.1 630.2L1513.8 632.0L1514.4 632.3L1515.1 635.0L1515.5 634.2L1515.9 636.0L1516.3 635.7L1517.2 639.8L1517.4 638.8L1517.7 641.5L1517.9 640.4L1519.1 646.3L1519.3 645.6L1519.6 647.5L1519.8 647.0L1520.1 649.4L1520.3 647.9L1520.6 650.6L1520.9 649.9L1521.2 652.8L1521.5 651.4L1521.8 653.8L1522.4 652.5L1522.9 655.7L1523.4 653.5L1523.9 657.3L1524.9 655.7L1525.8 659.4L1526.9 657.0L1528.0 659.7L1529.2 658.1L1530.4 659.8L1531.2 658.2L1532.0 659.5L1532.9 659.0L1533.7 659.8L1534.6 658.3L1535.4 659.8L1536.2 658.6L1537.1 660.0L1537.9 657.6L1538.7 659.6L1539.6 656.8L1540.4 658.9L1541.3 655.3L1542.2 658.0L1543.1 655.3L1544.0 658.0L1544.9 654.0L1545.6 655.8L1546.3 652.7L1547.0 653.9L1547.8 650.9L1548.5 653.0L1549.2 650.1L1550.0 651.8L1550.7 649.3L1551.4 650.9L1552.2 648.1L1552.9 650.7L1553.6 647.3L1554.3 649.5L1555.0 645.7L1555.7 648.9L1556.3 645.3L1557.0 647.9L1557.7 645.0L1558.3 647.1L1559.0 645.0L1559.7 646.1L1560.3 643.9L1561.0 645.5L1561.6 643.2L1562.3 644.8L1562.8 641.1L1563.4 642.2L1563.9 639.4L1564.5 641.1L1565.0 638.0L1565.6 639.6L1566.1 635.5L1566.6 637.5L1567.2 634.5L1567.7 635.5L1568.2 632.6L1568.7 633.9L1569.2 631.9L1569.7 633.5L1570.2 630.0L1570.7 631.5L1571.2 628.8L1571.7 630.9L1572.3 627.1L1573.0 629.0L1573.7 626.1L1574.3 626.7L1575.5 624.9L1576.6 625.9L1577.2 625.1L1577.7 627.3L1578.3 626.5L1579.1 630.9L1579.3 630.2L1579.7 631.9L1582.2 648.0L1583.0 650.0L1584.4 650.4L1585.1 648.5L1585.4 648.9L1585.8 646.6L1586.1 648.0L1586.4 644.6L1586.7 645.8L1587.0 643.2L1587.2 644.9L1587.5 641.7L1587.7 642.8L1588.0 640.7L1588.2 642.4L1588.5 638.8L1588.7 640.9L1589.0 637.6L1589.3 639.3L1589.5 635.6L1589.8 638.4L1590.0 632.8L1590.3 636.5L1591.4 629.1L1591.8 631.7L1592.2 629.0L1592.8 630.3L1593.5 627.0L1594.1 629.0L1595.5 627.2L1596.3 629.0L1597.1 628.7L1597.6 630.7L1598.1 629.9L1598.6 632.3L1599.1 631.4L1599.6 635.2L1600.2 633.0L1600.9 636.7L1601.6 636.3L1602.9 638.5L1603.6 635.4L1604.3 635.6L1604.6 632.7L1604.8 634.2L1605.0 631.3L1605.4 629.5L1605.6 630.4L1605.7 626.4L1605.9 628.9L1606.0 625.1L1606.2 626.5L1606.7 622.2L1606.8 623.8L1607.0 620.4L1607.1 621.7L1607.3 618.9L1607.5 620.7L1607.7 617.2L1607.9 618.5L1608.9 613.6L1609.4 616.0L1609.9 614.2L1611.3 616.6L1612.1 614.9L1613.0 616.8L1613.9 615.0L1614.8 617.2L1615.6 616.5L1616.4 618.0L1617.0 617.6L1617.6 619.3L1618.0 618.5"/>
<path stroke="#38AE6C" d="M156.5 491.4L166.6 491.5L167.6 490.7L168.5 491.1L169.5 490.1L170.4 490.5L171.3 488.5L172.1 491.5L173.0 489.1L173.8 490.6L174.7 487.4L175.6 491.1L176.4 486.9L177.3 492.5L178.2 489.3L179.1 494.4L180.0 490.4L180.9 495.1L181.8 491.0L182.8 497.8L183.7 491.8L184.6 496.5L185.5 493.9L186.4 496.5L187.4 494.2L188.3 497.2L189.2 492.7L190.1 496.2L191.1 492.6L192.0 495.1L192.9 490.3L193.8 493.6L194.7 491.2L195.6 495.1L196.5 491.2L197.3 496.6L198.2 492.8L199.0 496.4L199.9 493.9L200.7 498.4L201.6 495.4L202.4 497.9L203.3 493.9L204.1 498.5L205.0 494.8L205.8 499.3L206.6 493.4L207.5 498.5L208.3 492.6L209.2 500.6L210.0 490.6L210.8 498.2L211.7 494.5L212.5 498.6L213.4 494.6L214.2 500.7L215.1 495.2L215.9 501.9L216.8 496.9L217.6 503.2L218.5 495.9L219.4 499.8L220.3 494.5L221.2 498.9L222.1 494.5L223.0 496.5L223.9 491.2L224.8 496.5L225.7 491.6L226.6 498.3L227.5 491.8L228.4 496.9L229.2 490.9L230.1 495.5L230.9 491.0L231.7 495.6L232.5 491.4L233.3 493.5L234.3 490.7L235.2 494.4L236.2 493.2L237.0 496.0L237.9 493.7L238.6 497.2L239.3 494.4L240.7 495.8L242.0 491.2L243.4 493.0L244.9 485.8L246.0 494.8L247.1 486.6L247.9 495.3L248.6 486.5L249.4 493.1L250.2 486.5L251.0 497.4L251.8 490.8L252.6 496.1L253.4 491.9L254.3 496.2L255.1 491.9L255.9 495.0L256.8 489.6L257.6 495.6L258.5 493.2L259.3 497.8L260.2 493.6L261.0 500.8L261.9 491.9L262.8 499.0L263.6 489.1L264.5 497.1L265.4 490.1L266.3 495.6L267.2 493.1L268.1 497.9L269.0 493.3L269.9 499.6L270.8 494.2L271.7 498.9L272.6 493.7L273.5 496.2L274.4 489.4L275.3 498.6L276.2 489.9L277.1 498.4L278.0 491.6L279.0 496.1L279.9 491.8L280.9 496.3L281.8 492.5L282.8 496.6L283.7 490.6L284.7 495.6L285.6 492.1L286.5 494.9L287.3 491.7L288.2 494.3L289.0 492.3L290.1 496.2L291.2 495.0L292.0 498.2L292.7 493.6L293.3 498.9L294.0 497.0L294.5 501.5L295.1 497.5L295.6 501.7L296.1 498.6L296.7 501.4L297.2 500.2L297.9 503.3L298.5 502.8L299.2 503.8L300.6 504.6L301.3 504.3L302.1 505.2L302.9 504.8L303.6 505.8L304.4 505.2L305.1 506.6L305.8 506.2L306.5 507.9L307.2 507.0L307.9 509.0L308.5 509.0L309.1 511.2L309.8 510.7L310.4 512.5L310.9 512.3L311.5 514.3L312.1 513.1L312.7 515.9L313.2 515.3L313.8 517.8L314.4 516.1L314.9 518.7L315.4 517.8L315.9 520.5L316.3 518.7L316.8 521.1L317.3 518.9L317.8 523.8L318.3 519.0L318.8 523.1L319.2 521.0L319.7 525.7L320.2 522.6L320.7 526.0L321.2 525.5L321.7 527.7L322.1 526.7L322.6 529.0L323.1 528.5L323.6 531.4L324.1 530.1L325.5 534.4L326.0 533.3L326.5 536.5L327.0 535.6L327.5 537.8L327.9 537.4L328.4 539.6L328.9 538.4L329.4 541.3L329.9 540.0L330.3 544.8L330.8 543.4L331.3 546.7L331.8 545.2L332.3 548.0L332.8 547.0L333.2 550.5L333.7 549.2L334.2 551.2L334.6 549.8L335.1 553.4L335.6 550.1L336.0 554.6L336.5 552.8L337.0 555.6L337.4 553.9L337.9 557.0L338.4 555.5L338.9 557.7L339.5 555.1L340.0 560.2L340.5 557.6L341.0 559.9L341.6 558.7L342.1 561.8L342.7 558.5L343.2 563.0L343.8 560.8L344.3 564.3L344.9 561.4L345.5 566.2L346.1 562.2L346.7 567.1L347.2 563.8L347.8 569.7L348.4 565.6L349.0 570.6L349.6 569.4L350.1 574.7L350.7 571.4L351.3 574.4L351.8 572.6L352.4 576.0L352.9 573.4L353.5 576.0L354.1 573.9L354.6 576.8L355.2 574.3L355.8 578.3L356.3 576.6L356.9 580.0L357.4 578.4L358.0 580.9L358.6 580.0L359.1 582.5L359.7 581.8L360.2 583.9L360.8 582.8L361.4 585.3L361.9 582.9L362.5 585.7L363.1 584.1L363.6 586.3L364.2 584.1L364.7 589.7L365.3 586.3L365.9 589.7L366.4 586.5L367.0 591.2L367.6 586.5L368.1 590.9L368.7 589.5L369.3 592.3L369.9 589.6L370.4 593.5L371.0 592.6L371.6 594.6L372.1 592.8L372.7 597.5L373.2 595.3L373.8 597.5L374.3 596.8L374.9 599.1L375.5 598.1L376.0 601.0L376.6 600.4L377.1 604.0L377.7 601.9L378.5 604.7L379.4 603.3L380.2 607.3L381.1 602.8L382.4 607.1L383.7 604.8L385.0 608.8L386.3 607.5L387.6 609.6L388.9 606.6L389.7 609.0L390.5 604.8L391.4 605.8L392.2 603.7L393.0 604.1L393.8 601.9L394.3 603.1L394.8 600.4L395.4 601.6L395.9 599.4L396.4 599.7L396.9 597.8L397.4 598.6L400.1 594.7L404.8 586.3L409.5 576.0L415.7 558.0L423.4 537.9L428.1 528.4L432.7 521.7L436.2 517.7L442.5 512.7L471.0 494.8L477.8 491.8L484.2 490.9L494.3 491.3L499.0 492.4L503.8 495.0L507.0 495.9L509.1 495.4L517.9 490.5L519.9 490.2L521.4 490.6L524.3 492.4L528.0 496.7L530.7 502.7L538.6 535.7L541.9 547.5L543.4 549.3L545.2 547.6L549.1 538.8L555.7 514.3L560.3 501.4L563.6 493.7L565.3 491.2L566.9 490.2L568.0 490.6L569.2 491.9L571.4 495.8L574.3 501.9L577.2 510.3L578.3 511.3L579.4 511.4L583.2 509.8L585.6 509.6L587.0 511.0L591.7 521.8L592.8 522.6L594.2 521.4L595.6 518.3L599.6 505.0L603.1 497.0L605.2 492.9L606.3 491.6L607.4 491.0L609.6 492.2L613.9 498.3L618.1 508.7L619.2 510.5L620.4 511.3L621.8 510.5L628.2 498.7L630.1 496.7L633.2 495.6L646.8 494.1L659.8 491.4L674.6 490.5L691.0 490.3L767.4 495.1L777.9 495.4L788.3 494.7L795.4 492.3L801.8 491.2L808.5 491.2L811.3 492.9L812.7 495.9L815.2 505.8L818.0 522.2L818.9 526.0L819.9 527.5L820.6 526.4L823.7 512.7L824.7 511.3L825.6 511.8L830.1 518.8L831.2 519.4L832.3 519.0L834.4 516.6L837.7 511.3L843.4 499.8L845.2 497.2L847.4 495.1L853.3 492.6L860.3 491.5L869.1 490.9L881.7 491.9L882.6 491.4L883.4 492.2L884.3 491.7L885.1 493.0L886.0 491.9L886.8 493.4L887.6 492.1L888.5 493.2L889.3 492.2L890.1 493.5L891.0 492.4L891.8 493.4L892.6 491.6L893.5 493.5L894.3 490.5L895.1 492.4L896.0 490.3L896.8 492.0L897.7 491.2L898.5 493.0L899.4 492.2L900.2 494.2L901.1 492.1L901.9 494.7L902.8 491.0L903.6 493.5L904.5 491.2L905.3 493.4L906.1 491.6L906.9 494.0L907.7 491.7L908.5 493.3L909.3 491.5L910.1 493.6L911.0 490.9L911.8 493.8L912.6 491.4L913.4 493.8L914.2 490.5L915.0 492.9L915.8 490.8L916.6 491.5L917.4 490.2L918.2 491.0L919.0 490.2L919.8 491.5L920.6 489.2L921.4 491.4L922.2 490.3L923.0 492.6L923.8 490.1L924.6 491.6L925.4 490.3L926.2 492.4L927.0 489.0L927.8 492.3L928.7 489.8L929.5 493.5L930.3 489.9L931.1 492.3L931.9 489.0L932.7 492.4L933.5 489.6L934.3 490.7L935.1 487.8L935.9 489.5L936.7 488.4L937.5 489.7L938.3 488.0L939.1 489.2L939.9 487.0L940.7 489.7L941.5 486.4L942.3 489.6L943.1 486.1L944.0 488.8L944.8 486.2L945.6 487.9L946.5 486.6L947.3 487.5L948.1 485.7L948.9 486.2L949.8 484.8L950.6 486.1L951.4 484.9L952.2 485.7L953.0 484.9L953.8 485.5L954.6 483.9L955.5 486.6L956.3 484.7L957.1 486.1L957.9 484.9L958.8 486.3L959.6 482.7L960.5 486.3L961.3 483.2L962.2 484.8L963.0 482.3L963.9 483.9L964.7 481.3L965.5 483.4L966.4 481.0L967.2 483.7L968.0 481.4L968.9 483.3L969.7 480.6L970.5 483.5L971.3 480.9L972.2 482.8L973.1 480.7L974.0 483.2L974.8 482.1L975.7 484.0L976.6 481.7L977.6 484.4L978.5 482.3L979.3 485.0L980.1 483.6L980.8 485.4L981.5 484.1L982.7 486.9L983.3 485.1L984.0 487.8L984.6 486.3L985.3 489.0L985.9 487.9L986.5 490.4L987.1 489.7L987.7 491.6L988.2 490.5L988.8 493.0L989.4 492.8L990.0 494.6L990.6 494.4L991.1 496.7L991.7 495.4L992.3 497.9L992.9 497.2L993.5 498.8L994.1 498.6L995.0 499.9L995.9 499.6L996.7 501.5L997.6 499.6L998.4 500.8L999.3 498.2L1000.1 499.6L1001.0 497.2L1001.5 499.4L1002.1 495.3L1002.7 497.5L1003.3 494.5L1003.9 496.2L1004.5 493.2L1005.5 494.6L1006.4 490.7L1007.1 492.8L1007.8 489.2L1008.6 493.0L1009.3 489.5L1010.0 491.4L1010.8 488.8L1011.6 491.3L1012.3 489.2L1013.1 490.3L1013.9 487.3L1014.7 489.0L1015.5 486.4L1016.3 487.7L1017.1 484.2L1017.9 486.6L1018.7 484.7L1019.6 487.3L1020.4 483.9L1021.4 486.6L1022.3 482.1L1023.3 486.3L1024.0 481.7L1024.8 484.3L1025.6 481.7L1026.4 483.9L1027.1 481.9L1027.9 483.6L1028.7 480.2L1029.5 484.5L1030.3 480.0L1031.0 483.2L1031.8 480.4L1032.6 482.1L1033.5 477.0L1034.5 479.3L1035.5 477.5L1036.3 479.1L1037.2 477.0L1038.0 480.0L1038.8 478.2L1039.7 481.3L1040.4 480.1L1041.1 482.2L1041.7 480.0L1042.4 482.8L1043.0 482.2L1043.7 485.0L1044.4 483.6L1045.1 485.6L1046.0 484.8L1046.8 487.1L1047.7 486.6L1048.6 487.7L1049.4 487.3L1050.5 488.0L1051.5 486.6L1052.5 488.4L1053.4 487.0L1054.2 489.0L1055.0 486.3L1055.9 490.7L1056.7 488.5L1057.5 490.5L1058.3 488.1L1059.1 490.2L1060.1 487.3L1061.0 489.4L1062.0 487.8L1062.8 489.3L1063.5 488.9L1064.3 490.1L1064.8 490.0L1065.3 491.9L1065.9 491.0L1066.2 493.0L1066.6 492.5L1069.6 506.7L1069.8 506.1L1070.6 509.9L1070.8 509.2L1071.0 512.3L1071.3 510.9L1071.5 513.8L1071.7 512.9L1072.9 519.4L1073.1 518.9L1073.7 522.5L1073.9 521.8L1074.5 526.6L1074.7 526.0L1075.1 527.6L1078.5 549.5L1080.4 567.4L1081.1 570.5L1081.9 571.7L1083.1 569.8L1089.2 547.3L1090.7 545.3L1091.9 546.1L1093.2 548.3L1095.7 555.2L1097.7 562.9L1099.4 573.7L1101.2 598.0L1104.7 633.1L1105.8 658.1L1106.5 659.5L1107.4 658.1L1112.4 641.6L1113.5 640.2L1114.2 640.7L1115.3 643.6L1117.9 653.8L1120.5 668.3L1121.4 671.6L1122.4 672.9L1124.1 669.5L1125.9 660.8L1133.0 611.8L1137.4 586.4L1141.0 551.7L1145.4 518.0L1145.5 519.6L1146.9 505.1L1147.0 507.6L1147.9 500.9L1148.2 501.5L1148.5 498.9L1148.8 500.8L1149.0 496.0L1149.4 499.1L1149.7 493.2L1150.0 496.8L1150.4 493.4L1150.7 497.2L1151.1 491.9L1151.5 494.9L1151.8 488.5L1152.2 494.1L1152.7 488.5L1153.3 490.7L1154.3 487.2L1155.3 491.2L1155.6 488.6L1155.9 492.5L1156.2 490.8L1156.4 493.7L1156.6 492.8L1156.8 495.1L1157.0 494.4L1157.4 496.2L1157.5 499.2L1157.7 497.3L1157.9 500.7L1158.2 497.8L1158.4 501.5L1158.7 499.8L1159.0 502.8L1159.5 501.9L1159.9 503.9L1160.4 502.6L1161.6 507.5L1162.9 504.5L1164.3 509.6L1165.8 505.2L1167.2 509.3L1168.5 508.3L1169.8 513.7L1170.5 509.5L1171.1 513.3L1171.7 510.9L1172.4 513.2L1173.0 510.2L1173.6 516.2L1174.1 511.1L1174.6 514.7L1175.1 510.6L1175.6 517.1L1176.1 515.5L1176.6 520.8L1176.9 516.1L1177.1 523.4L1177.4 519.7L1177.6 523.9L1177.8 519.8L1178.0 526.2L1178.2 523.2L1178.7 529.8L1178.9 527.5L1179.4 533.0L1179.6 531.2L1180.4 537.2L1180.5 536.0L1180.6 538.0L1180.8 536.4L1180.9 540.2L1181.0 538.9L1181.2 540.9L1181.3 539.8L1181.6 544.7L1181.8 542.9L1182.5 547.7L1186.6 584.1L1186.8 583.5L1187.7 589.4L1190.1 596.7L1192.0 601.1L1192.8 601.7L1193.6 600.6L1194.3 597.9L1196.9 581.4L1201.2 560.1L1202.0 552.5L1202.3 553.0L1202.5 550.5L1202.8 551.3L1203.1 548.0L1203.5 548.8L1204.0 547.1L1204.9 546.9L1206.1 544.2L1207.3 546.3L1208.6 543.8L1209.9 546.3L1211.0 541.0L1211.9 544.6L1212.8 540.1L1213.7 544.0L1214.5 539.5L1215.3 541.7L1216.1 539.4L1216.6 540.4L1217.1 538.3L1217.5 539.7L1218.0 536.6L1218.4 537.6L1218.8 534.7L1219.2 536.9L1219.6 532.9L1220.0 534.3L1220.4 531.7L1220.8 532.3L1221.2 530.2L1221.6 530.6L1222.0 527.3L1222.4 528.9L1222.8 525.6L1223.1 527.4L1223.5 524.4L1223.9 525.3L1224.3 522.7L1224.8 523.4L1225.2 520.9L1225.8 522.8L1226.3 520.4L1227.3 522.2L1228.5 518.7L1229.7 522.8L1230.9 518.2L1232.1 520.7L1233.3 517.7L1234.0 521.4L1234.7 517.1L1235.4 520.4L1236.1 515.8L1236.7 518.8L1237.4 514.3L1238.0 516.6L1238.7 512.0L1239.4 512.5L1240.0 509.0L1240.7 510.3L1241.4 503.9L1242.0 507.4L1242.5 504.6L1243.1 508.0L1243.5 503.6L1244.0 505.3L1244.4 503.0L1244.8 506.3L1245.3 501.5L1245.7 504.3L1246.2 500.7L1246.6 502.5L1247.2 499.1L1247.8 501.2L1248.4 496.4L1249.0 499.6L1249.5 495.2L1250.1 496.2L1250.8 493.9L1251.6 495.4L1252.8 494.9L1253.3 497.7L1253.9 496.6L1254.4 500.0L1255.0 498.7L1255.5 501.6L1255.9 501.1L1256.3 503.7L1256.6 501.9L1256.9 504.2L1257.3 504.1L1258.8 510.3L1259.0 509.6L1261.7 525.8L1263.8 531.7L1264.8 532.8L1265.6 531.4L1268.6 513.4L1269.9 509.9L1272.2 507.0L1277.5 502.4L1283.4 491.6L1284.7 489.7L1286.0 489.1L1287.3 490.2L1288.4 492.8L1295.9 520.0L1297.0 522.1L1298.3 523.2L1299.7 523.3L1303.0 521.7L1307.8 517.5L1310.6 513.5L1319.0 497.7L1321.6 494.5L1322.9 493.9L1324.1 494.5L1327.7 500.1L1329.0 501.7L1330.4 502.4L1332.4 501.6L1334.7 499.5L1341.7 491.8L1343.7 491.0L1346.5 492.1L1349.0 494.9L1351.2 498.6L1352.8 504.2L1356.0 535.9L1356.9 538.3L1357.8 537.1L1358.7 534.1L1365.7 501.8L1368.2 496.7L1372.2 493.6L1375.2 492.8L1376.7 492.9L1379.0 494.4L1388.8 507.2L1390.9 508.1L1392.7 506.7L1394.3 503.6L1398.5 491.5L1400.0 489.0L1402.4 487.0L1404.6 486.6L1406.0 488.3L1407.3 491.5L1411.5 511.8L1412.8 520.0L1416.1 550.5L1417.2 557.4L1418.4 560.0L1420.0 555.1L1427.2 498.4L1428.7 493.5L1429.8 497.2L1433.0 547.4L1434.4 557.7L1438.4 572.9L1441.3 579.7L1442.5 580.7L1443.9 578.3L1445.2 572.1L1454.1 495.5L1455.2 489.0L1456.2 486.6L1457.2 490.0L1458.8 511.8L1461.8 578.8L1464.4 652.7L1466.6 695.5L1470.4 739.5L1471.4 745.9L1472.3 748.3L1473.3 744.6L1475.3 720.8L1479.0 654.4L1485.7 515.8L1487.3 499.1L1488.1 496.3L1488.6 497.0L1489.0 494.1L1489.5 495.5L1490.5 494.7L1491.1 497.4L1491.6 496.8L1492.8 500.7L1493.3 499.9L1493.7 503.7L1494.1 502.1L1494.7 504.5L1495.3 502.6L1496.4 505.3L1497.6 497.4L1497.9 500.6L1498.2 495.1L1498.6 498.3L1499.3 492.7L1499.5 495.1L1499.8 489.9L1500.0 495.1L1501.0 485.0L1501.4 492.6L1501.8 482.9L1502.5 487.7L1503.3 484.2L1504.1 486.3L1505.0 483.7L1506.0 487.7L1507.0 485.6L1508.0 488.9L1509.1 487.2L1509.8 489.7L1510.5 488.4L1511.2 493.0L1511.9 489.7L1512.6 492.3L1513.3 490.4L1514.2 494.1L1515.1 490.3L1515.9 494.6L1516.7 488.0L1517.2 496.1L1517.7 490.4L1518.1 499.3L1518.6 494.4L1519.0 499.8L1519.4 496.6L1519.9 500.4L1520.3 497.7L1520.8 503.5L1521.5 499.4L1522.2 503.5L1523.1 502.3L1523.9 505.3L1524.7 503.3L1525.6 505.5L1526.4 503.1L1527.1 504.2L1527.9 502.2L1528.6 504.1L1529.3 501.8L1529.9 503.6L1530.5 498.8L1531.1 501.5L1531.7 497.2L1532.4 498.8L1533.0 493.2L1533.6 496.2L1534.2 490.3L1534.9 495.8L1535.5 487.7L1536.3 495.8L1537.0 491.5L1537.8 495.7L1538.6 489.2L1539.5 494.9L1540.5 491.6L1541.4 496.3L1542.5 490.8L1543.6 495.7L1544.3 492.4L1545.0 495.4L1545.7 493.5L1546.4 499.5L1547.0 494.8L1547.7 498.9L1548.4 496.0L1549.1 502.2L1549.7 495.3L1550.7 500.1L1551.7 498.0L1552.7 501.2L1553.7 498.3L1554.6 498.6L1555.5 494.6L1556.5 495.5L1557.4 493.1L1558.0 494.2L1558.6 491.5L1559.1 493.6L1559.7 490.4L1560.3 492.3L1560.9 488.8L1561.8 491.0L1562.6 486.6L1563.5 491.5L1564.3 489.0L1565.8 493.2L1566.5 488.3L1567.2 494.4L1567.9 491.3L1568.6 497.7L1569.3 489.4L1570.0 498.0L1570.7 492.3L1571.5 498.2L1572.2 493.7L1573.0 499.9L1573.9 494.9L1574.7 501.5L1575.6 496.1L1576.5 500.0L1577.5 497.5L1578.4 502.5L1579.3 498.9L1580.3 504.0L1581.2 496.6L1582.0 503.6L1582.8 499.3L1583.6 504.3L1584.2 499.0L1584.9 501.2L1585.5 493.8L1585.8 500.4L1586.2 494.9L1586.5 499.3L1586.8 492.9L1587.1 495.2L1587.3 490.2L1587.6 495.9L1587.8 488.9L1588.0 491.0L1588.2 487.1L1588.5 490.4L1588.7 484.7L1588.9 488.8L1589.1 481.6L1589.3 488.6L1589.5 479.3L1589.7 486.9L1590.0 480.3L1590.2 485.0L1590.5 478.2L1590.7 482.2L1591.0 477.4L1591.7 479.9L1592.4 475.3L1593.0 481.4L1593.5 477.3L1594.1 482.4L1594.4 478.9L1594.7 483.5L1595.0 480.8L1595.3 486.7L1595.6 480.7L1595.9 489.0L1596.2 484.1L1596.4 489.9L1596.6 484.0L1596.8 491.0L1597.1 485.2L1597.8 493.9L1598.0 489.3L1598.7 497.2L1598.9 494.4L1599.1 498.0L1599.3 495.0L1599.6 498.9L1599.9 496.4L1600.1 499.9L1600.4 498.9L1600.7 501.4L1601.0 500.2L1601.3 502.8L1601.8 501.4L1602.4 504.5L1602.9 503.1L1603.5 504.9L1604.1 501.6L1604.4 502.8L1604.7 497.6L1604.9 502.1L1605.2 496.9L1605.4 501.5L1605.9 493.5L1606.1 497.2L1606.2 491.5L1606.4 495.0L1606.9 489.6L1607.1 491.8L1607.3 487.7L1607.5 492.0L1607.8 484.4L1608.0 489.3L1608.3 483.7L1608.5 488.1L1609.2 482.6L1609.9 487.9L1611.3 485.0L1612.2 488.6L1613.0 484.8L1613.6 488.8L1614.2 482.9L1614.8 491.0L1615.3 483.9L1615.9 491.1L1616.4 485.5L1617.0 491.9L1617.6 490.0L1618.0 493.5"/>
<path stroke="#B07ADF" d="M156.5 358.1L168.2 358.7L170.0 359.0L170.9 359.7L171.7 359.1L172.6 360.5L173.5 359.5L174.4 360.4L175.3 358.8L176.2 360.9L177.1 359.3L178.1 360.2L179.1 358.5L180.0 359.9L181.0 359.5L181.8 360.7L182.6 359.6L183.3 362.2L184.1 361.0L184.9 362.5L185.7 360.4L186.5 362.6L187.3 360.1L188.1 363.5L188.8 360.7L189.8 363.8L190.8 360.2L191.7 365.1L192.7 360.7L193.6 364.5L194.6 362.6L195.5 366.8L196.5 362.7L197.4 366.5L198.4 364.3L199.3 367.2L200.3 364.1L201.2 367.6L202.2 364.4L203.1 367.0L204.0 365.3L205.0 365.8L205.9 363.7L206.9 366.1L207.8 363.2L208.8 366.4L209.7 364.4L210.7 367.5L211.6 366.0L212.6 367.7L213.5 364.5L214.5 366.7L215.4 364.6L216.3 366.6L217.3 365.1L218.2 368.5L219.2 366.7L220.1 368.3L221.0 366.8L222.0 367.6L222.9 366.0L223.9 366.7L224.8 365.0L225.8 366.5L226.7 364.4L227.6 366.9L228.6 364.9L229.5 368.0L230.5 365.0L231.4 366.6L232.3 363.3L233.3 367.3L234.2 363.9L235.2 365.6L236.1 363.6L237.1 365.4L238.0 363.4L239.0 365.2L239.9 362.7L240.9 364.6L241.8 362.2L242.8 363.9L243.8 361.9L244.8 363.7L245.7 362.7L246.7 364.8L247.7 362.9L248.7 366.4L249.7 364.1L250.6 367.1L251.6 364.2L252.5 368.3L253.5 365.3L254.4 366.9L255.4 364.2L256.3 366.9L257.2 365.6L258.1 366.9L259.0 366.0L259.8 368.7L260.7 366.1L261.6 368.0L262.5 365.2L263.4 367.8L264.3 363.9L265.1 365.4L266.0 363.0L266.8 364.2L267.6 361.3L268.5 362.9L269.3 359.6L270.1 361.8L270.9 357.8L271.7 361.5L272.5 358.3L273.3 361.3L274.1 359.5L275.0 360.8L275.8 359.4L276.6 360.9L277.5 359.9L278.3 361.4L279.1 359.6L280.0 362.3L280.8 359.8L281.7 362.5L282.5 360.1L283.4 362.5L284.2 361.4L285.0 362.7L285.9 361.4L286.7 362.6L287.6 361.3L288.4 362.4L289.2 362.0L290.1 363.3L290.9 363.1L291.7 364.6L292.6 363.6L293.4 365.0L294.3 364.2L295.2 366.1L296.0 365.2L296.9 367.3L297.7 366.1L298.6 367.4L299.4 366.4L300.2 367.5L301.1 366.1L301.9 368.2L302.7 367.1L303.6 369.3L304.4 366.8L305.2 369.5L306.0 367.9L307.0 371.4L308.1 367.8L309.1 370.3L310.1 366.7L311.2 368.9L312.2 366.3L313.2 369.3L314.2 366.8L315.1 368.9L316.1 366.7L317.1 369.3L318.0 366.0L318.9 369.9L319.8 366.1L320.7 369.6L321.6 367.7L322.4 370.4L323.2 368.8L324.1 370.6L324.9 369.9L325.8 372.5L326.7 372.2L327.6 374.3L328.6 373.3L329.4 375.5L330.1 374.4L330.9 376.3L331.7 375.0L332.6 376.9L333.4 375.0L334.2 378.4L335.1 377.1L335.9 378.5L336.8 377.7L337.7 378.9L338.5 377.8L339.4 380.2L340.3 378.8L341.1 380.3L342.0 379.3L342.8 380.2L343.7 379.9L354.0 382.9L358.8 384.6L364.7 387.5L371.7 392.4L377.9 399.1L382.6 403.0L385.7 405.2L388.9 406.2L390.5 406.0L393.7 404.6L401.6 398.9L407.8 392.9L417.3 380.6L423.5 374.0L429.8 369.0L437.7 364.9L442.2 363.4L448.4 362.4L472.8 361.9L489.1 360.7L504.2 359.0L509.6 359.5L517.2 361.5L521.5 363.9L524.7 367.2L527.3 371.3L529.6 376.0L532.1 383.1L540.8 416.4L542.1 419.3L543.4 420.5L544.3 420.2L546.2 417.9L552.3 405.3L558.8 388.1L564.3 369.0L565.6 365.9L566.9 364.7L568.1 365.7L570.3 372.4L577.0 402.2L578.3 404.0L579.2 404.4L582.6 403.8L584.7 404.3L586.7 408.7L588.3 416.5L591.6 442.0L592.8 444.8L593.6 444.1L595.3 439.1L598.7 424.0L601.5 407.8L604.2 399.4L606.2 396.3L608.5 393.9L610.7 393.0L611.8 393.4L614.1 395.9L617.1 401.1L620.6 411.8L621.2 412.4L621.9 411.8L623.2 407.7L630.1 378.0L631.5 368.3L633.4 364.7L635.4 363.3L641.1 361.5L651.7 360.7L659.4 362.3L672.4 366.4L693.0 369.3L720.1 371.5L763.0 373.4L784.3 375.6L794.3 376.0L802.6 375.3L808.5 372.8L810.7 370.1L812.0 366.6L815.9 328.9L817.7 322.8L818.8 320.3L819.9 319.4L820.7 321.7L823.1 346.3L823.9 348.5L824.6 347.5L827.9 335.0L828.8 333.9L829.7 334.5L831.6 338.6L838.4 358.0L842.2 365.1L845.1 368.7L848.6 371.7L854.1 373.9L858.1 374.4L877.6 374.5L882.3 373.9L883.5 374.4L884.6 373.5L885.5 374.3L886.3 374.0L887.1 374.5L888.1 373.7L889.0 374.3L890.0 373.0L890.9 373.9L891.8 373.0L892.7 374.4L893.6 372.7L894.5 375.1L895.3 372.9L896.2 374.8L897.1 373.0L897.9 373.9L898.8 372.2L899.7 373.6L900.5 372.0L901.4 373.8L902.2 372.8L903.0 373.8L903.8 372.6L904.6 374.0L905.5 373.0L906.3 373.9L907.1 372.2L907.9 373.6L908.8 370.6L909.6 372.8L910.5 371.7L911.3 374.1L912.2 372.0L913.0 374.1L913.9 372.2L914.7 374.5L915.6 371.3L916.5 372.4L917.4 370.4L918.2 371.7L919.1 370.5L920.0 373.4L920.8 370.6L921.7 373.0L922.6 372.2L923.4 372.8L924.3 371.9L925.2 373.2L926.0 371.5L926.9 372.3L927.7 370.9L928.6 371.9L929.4 369.1L930.2 371.8L931.1 369.6L931.9 371.7L932.7 368.7L933.5 370.8L934.4 369.6L935.2 371.1L936.0 369.5L936.8 370.7L937.6 369.4L938.4 370.7L939.3 367.7L940.1 370.6L940.9 368.8L941.7 369.9L942.5 368.3L943.3 369.3L944.2 367.8L945.0 369.7L945.8 367.3L946.6 368.8L947.5 367.4L948.3 368.3L949.1 367.1L949.9 368.8L950.8 367.0L951.6 367.8L952.4 367.0L953.3 368.4L954.1 366.5L954.9 367.7L955.8 367.0L956.7 367.9L957.5 367.0L958.4 367.9L959.3 366.1L960.1 367.4L961.0 365.4L961.9 366.8L962.7 365.0L963.6 366.0L964.4 364.0L965.3 366.5L966.1 364.1L967.0 367.2L967.8 364.9L968.7 366.9L969.5 364.5L970.4 366.6L971.2 365.1L972.1 367.8L972.9 365.5L973.8 367.1L974.6 366.1L975.5 368.0L976.3 366.3L977.2 367.7L978.3 366.7L979.3 368.3L980.2 366.9L981.1 368.8L981.8 367.3L982.6 369.2L983.3 368.3L984.0 370.3L984.7 368.8L985.4 370.7L986.2 369.0L987.0 372.7L987.7 370.4L988.4 374.4L989.1 372.6L989.8 376.1L990.6 373.2L991.3 376.8L992.0 375.0L992.8 378.8L993.5 377.3L994.2 380.9L995.0 377.8L995.7 381.3L996.4 379.5L997.1 382.0L997.9 379.5L998.9 382.0L999.9 380.9L1000.7 382.2L1001.6 380.2L1002.4 381.4L1003.2 379.2L1004.0 379.7L1004.8 377.3L1005.5 378.7L1006.3 375.5L1007.1 376.1L1007.9 373.5L1008.8 374.8L1009.6 371.8L1010.3 373.7L1010.9 371.2L1011.6 372.4L1012.3 370.0L1013.0 370.6L1013.7 369.1L1014.4 369.9L1015.1 367.0L1015.8 368.0L1016.5 365.8L1017.2 366.8L1017.9 364.1L1018.7 365.1L1019.4 363.3L1020.2 363.8L1021.0 362.1L1021.8 362.6L1022.6 360.1L1023.3 362.8L1024.0 359.4L1024.7 361.3L1025.4 359.2L1026.1 360.6L1026.9 358.4L1027.6 359.5L1028.4 357.6L1029.2 358.4L1029.9 356.3L1030.7 357.5L1031.5 355.9L1032.3 356.9L1033.0 354.1L1033.8 356.5L1034.6 354.2L1035.6 355.1L1036.6 353.0L1037.6 353.8L1038.5 352.7L1039.5 354.0L1040.4 352.5L1041.4 353.8L1042.5 353.1L1043.4 355.5L1044.4 354.5L1045.4 355.7L1046.3 355.0L1047.2 356.4L1048.1 355.5L1049.1 357.3L1050.0 355.7L1050.9 359.4L1051.8 357.3L1052.6 359.2L1053.4 357.6L1054.2 358.0L1055.0 356.7L1055.8 357.0L1056.6 355.6L1057.4 356.0L1058.2 354.8L1059.0 355.1L1059.8 353.6L1060.7 354.7L1061.5 352.8L1062.5 355.3L1063.6 353.9L1064.7 356.1L1065.8 354.4L1066.5 356.4L1067.2 355.8L1068.0 357.6L1068.7 356.4L1069.4 359.0L1070.2 357.2L1070.9 358.9L1071.6 358.5L1072.4 360.6L1073.1 360.1L1073.8 361.7L1074.5 361.3L1075.5 363.8L1076.5 362.5L1077.5 364.7L1078.6 363.9L1079.6 365.7L1080.6 364.5L1081.5 366.1L1082.5 364.9L1083.4 366.6L1084.3 365.2L1085.0 367.3L1085.8 367.0L1086.8 370.3L1087.7 369.3L1089.8 373.9L1090.5 373.8L1093.7 384.7L1096.6 400.9L1102.8 465.8L1105.4 500.4L1106.2 506.3L1107.3 508.6L1108.4 506.6L1113.8 482.8L1115.0 480.7L1115.9 481.7L1117.5 488.1L1119.7 500.9L1122.7 522.2L1123.5 525.9L1124.4 527.3L1125.3 526.5L1126.4 524.2L1129.6 512.7L1131.9 502.1L1134.2 486.7L1137.4 453.8L1139.7 413.1L1142.5 388.3L1143.6 382.9L1146.2 374.6L1149.1 368.0L1152.3 363.5L1153.9 362.7L1156.0 363.3L1157.5 364.6L1158.2 366.3L1159.0 366.2L1159.7 368.0L1160.2 367.3L1160.7 369.1L1161.2 368.8L1162.0 370.5L1162.7 370.7L1163.3 372.6L1163.9 372.0L1164.5 374.1L1165.1 374.0L1165.8 375.5L1166.4 375.1L1167.0 377.3L1167.7 376.5L1168.3 378.6L1168.9 377.4L1169.5 379.3L1170.1 378.4L1170.7 381.8L1171.2 381.0L1171.8 383.2L1172.2 383.0L1172.7 385.7L1173.2 384.6L1174.2 389.1L1174.5 388.0L1174.8 391.1L1175.0 390.4L1175.3 392.9L1175.6 391.2L1175.8 394.3L1176.0 393.4L1176.6 397.7L1176.8 396.9L1177.6 403.0L1177.8 401.9L1177.9 403.6L1178.1 402.6L1178.9 409.3L1179.0 408.3L1179.6 411.3L1183.6 439.6L1188.3 464.8L1188.5 464.1L1188.7 466.7L1188.8 466.1L1190.2 473.0L1191.2 475.9L1192.1 477.6L1192.7 477.4L1193.3 477.9L1195.3 471.1L1198.4 450.9L1199.9 437.4L1201.5 413.6L1203.2 400.7L1203.4 401.8L1203.6 399.0L1203.9 399.6L1205.1 394.9L1205.6 395.5L1206.2 392.6L1206.8 393.7L1207.4 391.6L1208.0 392.4L1208.6 389.7L1209.1 389.5L1209.4 387.9L1209.8 388.3L1211.2 382.6L1214.4 362.4L1215.3 360.0L1216.0 363.9L1216.8 392.4L1217.5 399.3L1218.1 401.1L1218.5 400.9L1218.8 402.9L1219.7 401.2L1220.8 401.4L1221.4 399.5L1222.0 399.8L1222.6 397.9L1223.2 398.1L1223.9 396.3L1225.2 394.7L1236.4 387.2L1239.5 383.4L1252.2 364.9L1254.0 363.2L1255.7 362.6L1257.2 363.2L1258.6 364.7L1262.9 371.3L1268.5 376.4L1272.8 379.4L1274.9 380.1L1276.8 380.1L1278.9 378.2L1285.7 362.1L1287.3 360.8L1288.8 362.2L1294.6 378.5L1296.1 380.1L1297.3 379.5L1298.5 377.9L1302.0 371.9L1303.1 371.4L1304.3 372.9L1308.3 387.7L1309.3 388.9L1310.5 386.5L1313.4 363.5L1315.0 355.7L1317.2 350.3L1318.9 348.2L1323.1 345.0L1327.5 343.3L1329.5 343.3L1331.4 344.0L1333.2 345.5L1347.5 362.3L1350.3 367.6L1354.3 379.8L1355.5 382.6L1356.7 383.7L1357.7 382.9L1358.6 380.9L1361.5 372.0L1364.3 367.6L1368.0 363.6L1371.7 361.0L1373.3 360.8L1374.8 362.0L1376.0 364.5L1379.1 375.2L1383.7 385.6L1387.3 392.8L1389.0 395.1L1390.5 395.9L1391.9 394.6L1393.1 391.6L1401.6 357.8L1404.3 349.7L1405.5 348.5L1406.7 349.7L1407.8 352.8L1411.6 373.1L1413.1 388.2L1415.0 420.0L1417.2 439.1L1418.4 443.0L1419.1 440.8L1419.9 434.9L1422.1 408.0L1427.1 368.0L1428.1 362.8L1429.2 360.8L1430.4 363.2L1432.8 378.4L1436.2 408.2L1440.0 451.1L1440.9 458.3L1442.0 461.0L1443.2 458.2L1444.6 450.9L1454.5 376.5L1455.5 371.5L1456.4 369.6L1457.4 373.0L1459.0 394.9L1461.9 458.1L1470.2 662.8L1471.3 679.8L1472.3 686.3L1473.3 679.7L1474.3 662.4L1482.9 436.8L1484.8 400.7L1485.6 392.9L1486.8 386.5L1488.3 384.8L1488.8 383.4L1490.1 384.2L1490.8 383.8L1491.5 384.9L1492.3 384.8L1493.1 386.3L1493.9 386.1L1494.7 387.9L1495.5 386.7L1496.3 387.9L1497.6 386.2L1498.2 386.3L1498.8 384.6L1499.4 385.0L1499.6 382.4L1499.9 384.0L1500.1 381.5L1500.3 382.1L1500.5 379.4L1500.8 380.5L1503.2 366.4L1503.4 367.5L1503.6 364.6L1503.9 366.5L1504.1 362.1L1504.6 364.9L1505.0 360.1L1505.5 364.1L1506.7 360.3L1507.4 364.6L1508.0 363.0L1508.5 365.2L1508.9 362.9L1509.4 366.7L1509.8 365.8L1510.3 368.5L1510.7 367.5L1511.2 369.8L1511.6 369.3L1512.1 371.4L1512.5 370.1L1513.0 373.1L1513.4 372.5L1513.7 374.4L1514.0 373.1L1514.3 377.1L1514.6 374.7L1514.9 378.1L1515.2 375.3L1515.4 379.1L1515.6 377.6L1516.3 382.0L1516.6 380.6L1517.3 386.3L1517.5 384.4L1517.7 388.4L1518.0 385.7L1518.7 390.8L1518.9 389.5L1519.2 392.9L1519.4 391.6L1519.7 395.6L1519.9 393.7L1520.1 398.0L1520.5 395.2L1521.6 399.8L1522.0 398.2L1522.6 403.2L1523.3 399.0L1524.0 403.3L1524.9 400.5L1525.8 403.0L1526.3 399.7L1526.8 402.3L1527.2 397.3L1527.7 401.3L1528.1 397.2L1528.5 399.5L1528.9 395.6L1529.3 397.7L1529.7 393.9L1530.1 396.9L1530.5 392.5L1531.0 395.1L1531.4 390.8L1531.8 392.3L1532.3 389.0L1532.9 389.4L1533.4 386.7L1534.0 388.4L1534.8 385.4L1535.5 387.3L1536.3 384.4L1537.4 386.8L1538.5 386.1L1539.3 388.4L1540.1 386.0L1540.9 388.4L1541.7 387.2L1542.5 389.2L1543.3 388.1L1544.1 390.6L1544.9 388.9L1545.7 393.1L1546.5 390.0L1547.3 393.2L1548.1 392.4L1549.2 394.4L1550.3 392.4L1551.0 393.5L1551.8 390.6L1552.5 392.7L1553.2 390.0L1553.9 392.3L1554.5 388.0L1555.0 390.4L1555.5 386.4L1556.0 387.0L1556.4 384.5L1556.9 385.2L1557.4 381.9L1557.9 384.1L1558.3 381.7L1558.8 382.9L1559.4 380.2L1559.9 380.6L1560.4 378.3L1560.9 379.5L1561.5 376.5L1562.0 377.8L1562.6 375.7L1563.2 376.3L1563.9 374.5L1564.5 375.2L1565.1 372.7L1565.8 373.1L1566.5 371.6L1567.2 372.1L1567.9 370.4L1568.7 372.1L1569.4 370.1L1570.1 371.7L1570.9 369.0L1571.6 369.7L1572.3 367.7L1573.0 368.2L1573.7 365.3L1574.6 367.3L1575.4 365.3L1576.3 366.3L1577.3 365.2L1579.0 366.4L1579.6 368.0L1580.2 368.0L1580.4 370.0L1580.6 368.9L1581.2 373.4L1581.4 371.7L1581.5 375.6L1581.6 373.0L1583.3 389.9L1583.4 386.8L1583.6 391.2L1584.0 389.4L1584.5 392.3L1585.0 388.7L1585.5 390.7L1585.7 387.4L1585.9 388.4L1586.5 384.4L1586.7 385.7L1587.2 379.9L1587.4 382.1L1587.5 378.4L1587.7 379.4L1587.9 376.8L1588.1 377.9L1588.6 373.0L1588.9 374.8L1589.7 369.6L1590.0 371.3L1590.5 368.0L1591.1 370.6L1591.6 367.3L1592.5 371.0L1593.5 369.3L1594.0 371.3L1594.6 370.6L1595.1 372.7L1595.7 371.2L1596.2 375.6L1596.6 373.1L1597.1 375.7L1597.6 375.0L1598.1 377.4L1598.6 375.6L1599.0 379.2L1599.5 377.2L1600.0 379.7L1600.5 377.2L1601.0 381.5L1601.6 377.6L1602.2 382.9L1602.7 379.9L1603.7 383.6L1604.7 382.3L1605.3 384.0L1605.9 381.7L1606.5 383.9L1606.8 380.9L1607.1 381.5L1607.4 379.0L1607.7 379.9L1608.0 376.9L1608.2 377.9L1608.8 373.7L1609.2 372.1L1609.4 372.7L1609.9 367.5L1610.1 368.8L1610.3 366.0L1610.4 367.5L1611.1 362.3L1611.3 363.7L1611.5 360.9L1611.7 363.5L1611.9 359.5L1612.3 360.6L1612.7 358.3L1613.1 360.3L1613.5 356.7L1614.3 359.4L1615.3 356.5L1616.3 358.9L1617.1 354.8L1617.8 356.8L1618.0 355.5"/>
<path stroke="#CC9900" d="M156.5 220.0L164.2 218.0L166.2 218.1L167.2 217.3L168.1 218.2L169.1 216.2L170.0 217.7L170.9 216.0L171.7 217.5L172.6 215.5L173.5 216.6L174.4 214.3L175.3 217.5L176.3 214.8L177.2 217.3L178.2 215.6L179.2 218.3L180.2 215.2L181.1 220.5L181.9 215.2L182.7 220.7L183.5 215.6L184.3 218.8L185.1 216.7L186.1 219.6L187.1 217.4L188.1 220.0L189.1 218.5L190.1 219.5L191.1 217.8L192.0 218.4L193.0 216.7L193.9 218.2L194.8 216.9L195.8 218.5L196.7 216.1L197.6 219.1L198.5 216.6L199.4 220.4L200.4 217.3L201.3 220.0L202.2 216.7L203.1 220.5L204.0 216.8L204.9 220.7L205.8 218.1L206.7 221.7L207.7 217.8L208.6 220.9L209.5 216.7L210.4 219.9L211.3 214.9L212.2 221.8L213.2 217.1L214.1 221.7L215.0 216.0L216.0 220.3L216.9 214.8L217.9 220.1L218.8 217.8L219.8 221.0L220.7 217.9L221.7 220.0L222.6 215.6L223.6 219.0L224.6 213.6L225.5 219.8L226.5 215.6L227.4 219.6L228.4 215.4L229.4 217.9L230.3 213.7L231.3 217.2L232.3 215.5L233.2 218.7L234.2 214.8L235.1 217.1L236.1 215.1L237.0 216.9L238.0 214.6L239.0 217.6L239.9 216.2L240.9 219.0L241.9 217.3L242.6 219.6L243.4 218.3L244.2 221.8L245.0 217.5L245.8 220.4L246.6 218.5L247.4 221.6L248.1 216.9L248.9 222.3L249.7 218.7L250.7 221.8L251.6 218.4L252.6 222.3L253.6 219.4L254.5 221.8L255.4 219.2L256.3 222.7L257.2 219.5L258.1 222.8L259.0 220.5L259.8 223.8L260.7 220.5L261.6 224.1L262.5 220.4L263.5 221.3L264.3 218.2L265.2 219.9L266.0 216.7L266.9 218.8L267.7 217.4L268.5 221.1L269.3 217.2L270.1 220.8L270.9 216.4L271.7 218.9L272.5 214.4L273.3 215.7L274.2 212.7L275.0 214.4L275.8 212.6L276.7 213.3L277.5 212.1L278.4 213.3L279.0 210.1L279.7 213.0L280.3 209.0L281.0 212.4L281.6 208.1L282.3 211.0L282.9 205.7L283.6 209.0L284.4 205.3L285.3 207.8L286.1 204.5L287.0 207.0L287.8 203.4L288.6 206.3L289.7 202.1L290.9 206.4L291.7 200.5L292.6 204.3L293.4 201.6L294.2 206.4L295.0 201.4L295.8 206.2L296.6 204.3L297.3 207.6L298.0 205.7L298.7 210.9L299.4 206.5L300.0 211.6L300.4 209.8L300.9 212.9L301.3 209.7L301.6 214.5L301.9 212.7L302.1 216.3L302.4 213.4L303.1 220.1L303.3 218.1L303.9 222.1L304.1 219.7L304.4 224.0L304.7 221.9L305.0 225.4L306.0 224.0L306.9 226.5L307.9 221.5L308.4 224.0L308.9 219.3L309.4 222.1L309.9 218.0L310.4 221.0L310.9 216.6L311.5 218.5L312.0 214.0L312.6 217.3L313.2 210.6L313.8 214.2L314.4 209.7L315.0 212.4L315.6 208.8L316.2 210.3L316.9 206.0L317.5 207.0L318.2 201.4L318.8 206.1L319.5 201.3L320.5 205.0L321.5 199.7L322.6 204.8L323.6 202.5L324.6 205.0L325.6 201.5L326.7 204.2L327.6 202.5L328.0 206.7L328.5 201.8L329.0 208.8L329.4 205.1L329.9 210.7L330.4 206.2L331.0 209.0L331.6 206.5L332.4 210.7L333.3 207.9L333.9 212.6L334.5 209.4L335.1 212.7L335.8 210.8L336.5 214.9L337.1 210.7L337.8 216.1L338.6 214.1L339.3 216.5L340.0 215.4L340.7 218.1L341.5 217.5L342.2 218.8L343.0 218.2L343.7 218.8L346.1 219.0L356.6 218.8L358.8 219.3L361.7 220.8L365.2 224.0L369.1 229.6L375.3 243.5L386.1 274.1L387.4 276.6L389.0 278.0L390.1 278.2L392.7 277.5L396.5 275.0L399.6 271.8L405.0 264.5L408.1 262.0L410.7 257.4L421.1 233.6L424.3 228.6L429.1 224.0L437.7 218.5L444.8 216.3L453.5 216.5L460.8 218.5L476.7 225.2L481.0 226.2L485.4 225.4L494.0 222.1L510.8 218.1L513.4 218.1L514.9 218.7L519.1 222.2L522.7 227.9L524.4 234.1L527.3 249.7L533.8 297.2L541.4 373.0L542.3 376.1L543.4 374.6L544.6 370.9L546.8 361.3L550.7 325.8L557.2 277.2L560.9 242.2L564.7 227.1L566.7 222.8L567.7 222.1L568.6 222.7L569.5 224.2L572.4 231.4L576.5 239.2L578.8 242.0L579.9 242.4L581.2 241.5L586.6 231.1L588.0 230.2L589.4 231.0L590.7 233.1L594.8 240.8L596.1 241.6L597.2 241.1L606.4 226.0L609.1 222.5L612.2 220.8L617.2 221.2L620.4 220.5L622.2 218.7L628.3 206.4L630.1 204.3L633.2 202.5L638.1 201.3L641.5 201.1L650.0 202.7L661.1 203.5L672.4 207.5L688.6 211.6L704.6 216.8L716.9 219.5L747.5 220.9L769.6 221.3L798.3 219.1L804.2 219.3L808.5 220.5L809.9 221.5L812.3 225.4L814.8 233.6L818.1 256.7L819.1 259.4L819.8 258.2L823.0 244.5L823.9 243.2L824.5 243.6L827.1 248.9L828.0 249.7L831.2 249.8L834.5 248.1L836.0 246.1L837.4 243.2L841.1 232.9L845.0 226.9L849.0 223.1L853.0 221.1L855.7 220.4L861.6 219.6L866.9 219.7L868.7 220.2L874.9 223.5L876.6 223.8L880.8 222.8L887.5 219.6L893.3 218.5L912.4 218.9L966.3 216.6L974.0 216.7L978.8 217.8L982.7 220.1L987.4 224.1L994.2 231.9L996.3 233.7L998.3 234.3L999.8 233.7L1001.1 232.2L1004.9 225.7L1011.6 218.1L1015.5 214.9L1017.7 214.0L1023.0 213.9L1034.0 216.5L1042.0 217.2L1042.7 218.3L1043.5 218.1L1044.1 219.5L1044.8 219.7L1045.5 221.3L1046.2 221.1L1046.8 222.4L1047.5 222.1L1048.2 223.8L1048.8 223.6L1050.2 225.3L1051.3 224.6L1052.3 226.6L1053.4 224.8L1054.5 225.6L1055.6 223.4L1056.6 224.9L1057.3 222.9L1058.0 224.3L1058.6 221.2L1059.3 221.9L1059.7 219.3L1060.1 220.1L1060.5 217.7L1061.0 220.0L1061.4 216.9L1061.8 217.5L1062.5 215.3L1063.2 216.3L1064.0 214.1L1064.7 215.9L1066.2 212.9L1067.0 215.6L1067.9 213.7L1068.7 215.5L1069.6 214.2L1070.4 216.5L1071.3 215.6L1072.1 217.9L1073.0 216.6L1073.7 218.0L1074.5 217.2L1075.3 218.9L1076.2 218.4L1076.7 220.4L1077.2 219.9L1077.8 222.0L1078.3 221.0L1078.8 222.5L1079.3 222.2L1080.7 225.3L1081.2 225.0L1081.7 227.4L1082.1 226.5L1083.5 230.3L1084.1 230.3L1087.3 235.4L1087.9 235.6L1090.0 239.9L1091.5 244.3L1092.7 251.5L1094.7 270.3L1098.2 316.3L1101.1 360.4L1102.6 406.9L1103.4 414.7L1104.6 418.0L1105.1 417.9L1106.3 416.6L1108.1 413.1L1109.2 408.7L1112.7 383.4L1113.5 381.5L1114.2 382.6L1115.7 389.7L1118.4 409.8L1122.9 454.0L1124.1 461.2L1124.8 462.3L1125.6 461.3L1127.4 454.5L1131.0 431.1L1138.0 319.0L1142.4 261.6L1144.5 246.5L1151.4 213.5L1152.1 214.6L1152.9 214.0L1155.8 227.4L1157.9 232.6L1159.7 234.2L1160.3 235.5L1161.0 235.6L1161.6 236.6L1163.4 237.9L1165.0 241.0L1166.0 244.8L1167.5 257.1L1171.4 275.7L1171.6 275.0L1173.2 280.9L1173.6 280.9L1174.0 282.2L1177.3 286.2L1178.1 287.9L1180.3 295.7L1185.6 337.2L1189.0 373.1L1191.2 407.6L1191.8 413.2L1192.5 415.3L1193.3 413.2L1194.2 407.5L1197.8 373.1L1201.3 329.4L1202.2 308.0L1202.6 302.6L1203.7 297.4L1204.9 295.9L1205.3 294.6L1206.6 293.3L1207.5 293.2L1208.6 292.4L1209.7 293.2L1210.5 292.2L1211.3 293.3L1212.2 292.2L1213.0 293.8L1213.8 292.7L1214.6 293.8L1215.7 292.8L1216.9 293.6L1217.8 291.8L1218.8 293.0L1219.6 290.4L1220.4 291.2L1220.8 289.2L1221.3 290.3L1221.7 287.6L1222.1 289.1L1222.4 286.9L1222.8 287.5L1223.1 285.2L1223.4 285.9L1223.8 283.5L1224.1 283.9L1224.4 281.7L1224.8 282.3L1225.1 279.9L1225.5 280.4L1225.9 277.7L1226.5 278.6L1227.0 275.3L1227.6 275.9L1228.2 273.2L1228.8 274.0L1229.4 272.2L1229.9 272.4L1230.5 270.3L1231.1 270.8L1231.7 269.0L1232.3 269.4L1232.9 266.8L1233.4 267.5L1233.9 265.8L1234.4 265.7L1234.9 264.0L1236.3 262.1L1241.7 250.2L1248.7 229.2L1250.8 219.9L1252.2 217.7L1253.9 218.1L1255.8 219.8L1257.5 222.1L1258.6 225.3L1261.0 250.2L1277.1 300.7L1277.7 301.1L1278.8 300.5L1284.4 292.9L1285.6 292.4L1286.7 293.3L1289.9 303.9L1293.4 313.1L1295.2 316.4L1296.1 316.9L1297.3 315.3L1302.0 297.4L1303.1 295.9L1304.3 297.6L1309.1 317.1L1310.1 318.7L1311.2 317.0L1312.2 312.6L1313.9 299.2L1316.0 278.3L1317.9 248.8L1320.3 238.2L1321.9 234.2L1324.2 230.9L1327.3 228.8L1334.7 225.6L1343.3 218.1L1345.2 217.0L1347.0 216.9L1349.0 219.6L1350.6 225.2L1354.2 244.4L1355.8 246.7L1357.1 246.1L1358.6 244.3L1371.3 219.7L1372.8 217.6L1374.2 216.9L1375.5 218.2L1376.6 221.2L1380.4 237.9L1385.3 250.2L1388.8 263.0L1389.7 265.2L1390.5 266.0L1391.4 264.7L1392.3 261.4L1394.8 246.1L1399.7 225.0L1402.5 216.4L1403.7 215.1L1404.8 216.3L1407.0 224.3L1410.9 250.2L1412.4 270.8L1416.4 346.0L1417.0 353.0L1417.7 355.6L1418.5 353.0L1420.3 336.3L1423.8 291.3L1426.6 242.0L1428.7 219.9L1430.0 213.4L1430.7 215.7L1431.5 221.6L1433.0 239.9L1437.9 320.4L1441.4 352.3L1442.3 357.2L1443.2 359.1L1444.1 357.3L1445.0 352.4L1448.5 320.4L1455.5 227.5L1456.6 216.7L1457.2 215.1L1457.8 217.7L1459.1 234.4L1463.2 314.2L1465.7 372.1L1467.8 443.6L1471.3 608.8L1472.3 628.9L1473.9 587.8L1477.5 420.0L1482.3 295.9L1485.7 229.2L1487.1 215.1L1489.2 204.8L1490.1 205.1L1490.7 206.8L1493.8 225.2L1494.1 224.4L1494.7 228.7L1495.3 228.0L1495.9 230.8L1496.4 226.8L1497.0 228.4L1497.3 225.4L1497.6 227.3L1497.9 224.2L1498.2 225.2L1498.4 222.5L1498.6 223.1L1498.7 221.1L1498.9 222.0L1499.1 219.3L1499.3 220.1L1499.5 217.1L1499.7 218.8L1500.4 214.3L1500.6 215.7L1500.9 213.2L1501.1 214.3L1501.4 211.4L1501.7 211.8L1502.3 209.2L1502.9 210.5L1503.5 209.8L1504.0 212.5L1504.2 210.0L1504.4 213.7L1504.6 212.3L1504.8 215.3L1505.0 214.1L1505.5 219.1L1505.7 217.5L1505.8 220.2L1506.0 217.8L1506.2 222.7L1506.4 219.0L1506.9 226.6L1507.1 224.0L1507.3 227.6L1507.6 225.0L1507.8 228.7L1508.1 227.1L1508.3 230.5L1508.9 228.5L1509.4 232.6L1509.9 230.8L1511.2 232.5L1512.0 230.1L1512.7 232.6L1513.2 228.8L1513.7 230.4L1514.3 228.2L1514.8 231.0L1515.3 227.5L1515.9 229.7L1516.6 226.2L1517.4 227.5L1518.7 226.1L1519.4 228.4L1520.1 226.7L1520.4 229.4L1520.8 228.8L1521.2 232.5L1521.5 231.0L1521.7 233.7L1522.0 232.7L1522.2 235.9L1522.5 233.8L1522.7 236.9L1523.0 234.6L1523.2 239.2L1523.6 237.3L1524.0 241.4L1524.4 238.7L1525.0 241.6L1525.7 238.5L1526.6 241.1L1527.4 239.0L1527.9 241.2L1528.4 237.2L1528.9 240.0L1529.3 236.9L1529.7 238.4L1530.1 235.7L1530.6 237.9L1531.0 233.5L1531.4 235.0L1531.8 231.5L1532.2 233.3L1532.6 229.9L1533.1 231.5L1533.5 227.5L1533.9 230.1L1534.4 226.8L1534.8 228.1L1535.3 225.8L1535.7 227.4L1536.5 223.8L1537.2 226.7L1538.0 224.3L1538.9 225.6L1539.7 223.1L1540.6 225.3L1541.5 222.8L1542.4 226.0L1543.4 222.6L1544.3 226.4L1545.2 222.7L1546.1 224.9L1546.9 223.2L1547.7 224.9L1548.5 223.7L1549.2 227.2L1549.9 224.8L1550.5 228.0L1551.1 227.7L1551.7 230.8L1552.3 228.5L1552.8 231.7L1553.4 230.4L1554.5 234.0L1555.6 232.3L1556.3 233.2L1557.0 231.5L1557.5 232.0L1557.9 230.1L1558.3 230.7L1558.8 228.2L1559.2 228.1L1560.3 224.1L1560.7 224.3L1561.0 222.1L1561.4 223.6L1561.8 221.0L1562.2 221.4L1562.6 219.5L1563.1 220.7L1563.7 217.9L1564.3 219.8L1564.9 215.6L1565.6 217.7L1566.2 215.0L1566.9 217.1L1567.6 214.3L1568.3 216.4L1569.1 214.3L1569.8 217.1L1570.6 213.7L1571.3 215.3L1572.1 213.2L1572.8 215.3L1573.8 212.7L1574.9 215.1L1575.7 212.3L1576.6 214.9L1577.0 213.8L1577.4 216.1L1577.8 215.1L1578.2 217.7L1578.6 216.2L1578.8 220.2L1578.9 218.8L1579.1 221.2L1579.2 220.0L1580.1 227.2L1581.3 245.5L1582.1 250.3L1582.4 249.6L1582.8 251.7L1583.3 249.5L1583.7 250.4L1585.2 244.8L1585.5 245.0L1587.8 234.1L1588.1 235.6L1588.7 229.3L1588.9 232.1L1589.1 228.7L1589.4 230.7L1589.7 227.0L1590.0 227.5L1590.2 224.9L1590.5 225.8L1590.8 222.4L1591.3 224.5L1591.9 221.2L1592.4 221.9L1593.0 221.0L1593.6 222.9L1593.9 222.2L1595.2 229.3L1595.5 228.7L1595.7 230.7L1595.9 230.2L1596.2 232.9L1596.4 232.0L1596.6 234.8L1597.7 238.1L1598.0 237.9L1598.3 240.4L1598.9 239.6L1599.5 241.8L1600.2 239.6L1600.9 240.1L1601.2 237.4L1601.5 238.6L1601.8 236.0L1602.1 237.3L1602.4 234.3L1602.6 235.7L1603.8 228.9L1604.1 230.5L1604.3 228.1L1604.6 228.4L1604.8 225.3L1605.1 227.5L1605.3 224.0L1605.6 225.2L1605.9 223.0L1606.2 224.2L1606.5 219.7L1606.8 223.8L1607.5 219.1L1608.2 220.7L1608.8 218.4L1609.4 222.8L1609.9 219.8L1610.3 222.8L1610.7 222.0L1611.6 226.4L1612.0 225.6L1612.3 228.1L1612.6 226.9L1612.9 230.5L1613.2 229.2L1613.5 232.2L1613.9 230.3L1614.3 234.5L1615.3 232.6L1615.9 233.9L1616.5 232.1L1617.0 232.5L1618.0 229.2"/>
</g>
<line x1="389.5" y1="195" x2="389.5" y2="999" stroke="#000" stroke-dasharray="14 11.5" fill="none" stroke-width="3.0"/>
<line x1="1048.5" y1="191" x2="1048.5" y2="958" stroke="#000" stroke-dasharray="14 11.5" fill="none" stroke-width="3.0"/>
<line x1="1088.5" y1="192" x2="1088.5" y2="1068" stroke="#000" stroke-dasharray="14 11.5" fill="none" stroke-width="3.0"/>
<line x1="1109.0" y1="194" x2="1109.0" y2="1066" stroke="#000" stroke-dasharray="14 11.5" fill="none" stroke-width="3.6"/>
<line x1="1357.4" y1="196" x2="1357.4" y2="974" stroke="#000" stroke-dasharray="14 11.5" fill="none" stroke-width="3.0"/>
<clipPath id="cll150" clipPathUnits="userSpaceOnUse"><path clip-rule="evenodd" d="M-3000 -3000H6000V3000H-3000ZM421.35 -14.21H439.89V2.00H421.35ZM453.61 -14.21H470.88V2.00H453.61Z"/></clipPath>
<text transform="translate(611.11 182.90) scale(0.6923 0.7267)" font-family="'Liberation Sans', Arial, sans-serif" font-weight="bold" font-size="100" style="font-kerning:none" clip-path="url(#cll150)">TI-THFS-150</text>
<clipPath id="cll120" clipPathUnits="userSpaceOnUse"><path clip-rule="evenodd" d="M-3000 -3000H6000V3000H-3000ZM421.35 -14.21H439.89V2.00H421.35ZM453.61 -14.21H470.88V2.00H453.61Z"/></clipPath>
<text transform="translate(610.91 312.70) scale(0.6931 0.7180)" font-family="'Liberation Sans', Arial, sans-serif" font-weight="bold" font-size="100" style="font-kerning:none" clip-path="url(#cll120)">TI-THFS-120</text>
<text transform="translate(630.41 462.80) scale(0.6916 0.7238)" font-family="'Liberation Sans', Arial, sans-serif" font-weight="bold" font-size="100" style="font-kerning:none">TI-THFS-90</text>
<text transform="translate(630.41 598.60) scale(0.6916 0.7166)" font-family="'Liberation Sans', Arial, sans-serif" font-weight="bold" font-size="100" style="font-kerning:none">TI-THFS-60</text>
<text transform="translate(630.41 732.70) scale(0.6916 0.7238)" font-family="'Liberation Sans', Arial, sans-serif" font-weight="bold" font-size="100" style="font-kerning:none">TI-THFS-30</text>
<text transform="translate(661.51 847.50) scale(0.6925 0.7180)" font-family="'Liberation Sans', Arial, sans-serif" font-weight="bold" font-size="100" style="font-kerning:none">TI-THFS-0</text>
<text transform="translate(341.20 1070.80) scale(0.6902 0.7245)" font-family="'Liberation Sans', Arial, sans-serif" font-weight="bold" font-size="100" style="font-kerning:none">-OH</text>
<text transform="translate(732.89 1015.50) scale(0.6919 0.7245)" font-family="'Liberation Sans', Arial, sans-serif" font-weight="bold" font-size="100" style="font-kerning:none">-CO-O-CO-</text>
<text transform="translate(1006.06 1133.00) scale(0.6964 0.7245)" font-family="'Liberation Sans', Arial, sans-serif" font-weight="bold" font-size="100" style="font-kerning:none">&gt;C=O</text>
<text transform="translate(1260.96 1045.00) scale(0.6965 0.7245)" font-family="'Liberation Sans', Arial, sans-serif" font-weight="bold" font-size="100" style="font-kerning:none">&gt;S=O</text>
<text transform="translate(78.69 1290.90) scale(0.6979 0.7137)" font-family="'Liberation Sans', Arial, sans-serif" font-weight="bold" font-size="100" style="font-kerning:none">4000</text>
<text transform="translate(485.34 1290.90) scale(0.6903 0.7137)" font-family="'Liberation Sans', Arial, sans-serif" font-weight="bold" font-size="100" style="font-kerning:none">3000</text>
<text transform="translate(889.88 1290.90) scale(0.6961 0.7137)" font-family="'Liberation Sans', Arial, sans-serif" font-weight="bold" font-size="100" style="font-kerning:none">2000</text>
<clipPath id="clt1" clipPathUnits="userSpaceOnUse"><path clip-rule="evenodd" d="M-3000 -3000H6000V3000H-3000ZM4.80 -14.21H23.34V2.00H4.80ZM37.06 -14.21H54.33V2.00H37.06Z"/></clipPath>
<text transform="translate(1294.25 1290.90) scale(0.6889 0.7137)" font-family="'Liberation Sans', Arial, sans-serif" font-weight="bold" font-size="100" style="font-kerning:none" clip-path="url(#clt1)">1000</text>
<clipPath id="clwn" clipPathUnits="userSpaceOnUse"><path clip-rule="evenodd" d="M-3000 -3000H6000V3000H-3000ZM860.56 -49.23H873.68V-37.18H860.56ZM883.39 -49.23H895.61V-37.18H883.39Z"/></clipPath>
<text transform="translate(473.58 1435.70) scale(0.8960 0.9419)" font-family="'Liberation Sans', Arial, sans-serif" font-weight="bold" font-size="100" style="font-kerning:none" clip-path="url(#clwn)">Wavenumber <tspan font-size="94">(</tspan><tspan x="689.00">cm</tspan><tspan x="833.60" dy="-39.18" font-size="70.76">-1</tspan><tspan x="896.27" dy="39.18" font-size="94">)</tspan></text>
<text transform="translate(102.9 1046.83) rotate(-90) scale(0.8982 0.9433)" font-family="'Liberation Sans', Arial, sans-serif" font-weight="bold" font-size="100" style="font-kerning:none">Transmittance (a.u.)</text></svg>
</body></html>
